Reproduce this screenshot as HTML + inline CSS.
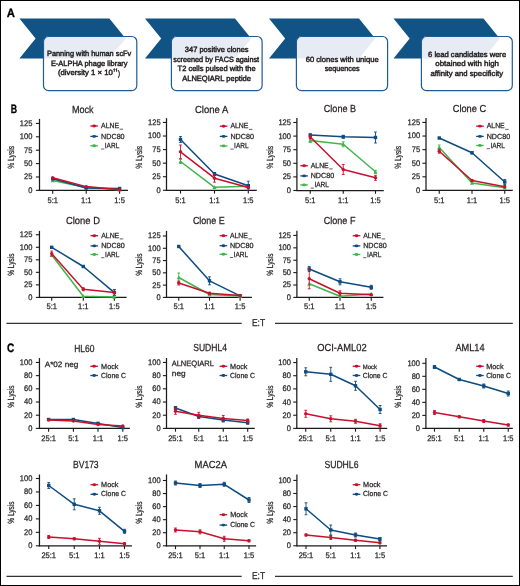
<!DOCTYPE html>
<html><head><meta charset="utf-8"><style>
html,body{margin:0;padding:0;background:#fff;}
body{width:520px;height:586px;overflow:hidden;position:relative;}
svg{position:absolute;left:0;top:0;font-family:"Liberation Sans", sans-serif;text-rendering:geometricPrecision;will-change:transform;}
.frame{position:absolute;left:0;top:0;width:518px;height:584px;border:1px solid #000;}
</style></head><body>
<svg width="520" height="586" viewBox="0 0 520 586">
<text x="6.70" y="16.60" font-size="12.0" font-weight="bold" fill="#000" stroke="#000" stroke-width="0.3" textLength="8.18" lengthAdjust="spacingAndGlyphs" >A</text>
<polygon points="19.40,18.5 109.40,18.5 125.60,38.5 109.40,58.5 19.40,58.5 35.60,38.5" fill="#115384"/>
<polygon points="145.00,18.5 235.00,18.5 251.20,38.5 235.00,58.5 145.00,58.5 161.20,38.5" fill="#115384"/>
<polygon points="269.00,18.5 359.00,18.5 375.20,38.5 359.00,58.5 269.00,58.5 285.20,38.5" fill="#115384"/>
<polygon points="393.50,18.5 483.50,18.5 499.70,38.5 483.50,58.5 393.50,58.5 409.70,38.5" fill="#115384"/>
<clipPath id="cb0"><rect x="43.50" y="36.5" width="93.30" height="54.1" rx="5" ry="5"/></clipPath>
<rect x="43.50" y="36.5" width="93.30" height="54.1" rx="5" ry="5" fill="#fff"/>
<polygon points="19.40,18.5 109.40,18.5 125.60,38.5 109.40,58.5 19.40,58.5 35.60,38.5" fill="#e7ebf4" clip-path="url(#cb0)"/>
<rect x="43.50" y="36.5" width="93.30" height="54.1" rx="5" ry="5" fill="none" stroke="#1f5b96" stroke-width="1.2"/>
<text x="47.00" y="56.20" font-size="7.6" font-weight="normal" fill="#231f20" stroke="#231f20" stroke-width="0.45" textLength="84.30" lengthAdjust="spacingAndGlyphs" >Panning with human scFv</text>
<text x="50.90" y="65.80" font-size="7.6" font-weight="normal" fill="#231f20" stroke="#231f20" stroke-width="0.45" textLength="76.70" lengthAdjust="spacingAndGlyphs" >E-ALPHA phage library</text>
<text x="57.90" y="75.20" font-size="7.6" font-weight="normal" fill="#231f20" stroke="#231f20" stroke-width="0.45" textLength="54.93" lengthAdjust="spacingAndGlyphs" >(diversity 1 × 10</text>
<clipPath id="cb1"><rect x="171.40" y="36.5" width="90.70" height="54.1" rx="5" ry="5"/></clipPath>
<rect x="171.40" y="36.5" width="90.70" height="54.1" rx="5" ry="5" fill="#fff"/>
<polygon points="145.00,18.5 235.00,18.5 251.20,38.5 235.00,58.5 145.00,58.5 161.20,38.5" fill="#e7ebf4" clip-path="url(#cb1)"/>
<rect x="171.40" y="36.5" width="90.70" height="54.1" rx="5" ry="5" fill="none" stroke="#1f5b96" stroke-width="1.2"/>
<text x="184.80" y="52.10" font-size="7.6" font-weight="normal" fill="#231f20" stroke="#231f20" stroke-width="0.45" textLength="63.80" lengthAdjust="spacingAndGlyphs" >347 positive clones</text>
<text x="173.30" y="61.70" font-size="7.6" font-weight="normal" fill="#231f20" stroke="#231f20" stroke-width="0.45" textLength="85.85" lengthAdjust="spacingAndGlyphs" >screened by FACS against</text>
<text x="177.60" y="71.30" font-size="7.6" font-weight="normal" fill="#231f20" stroke="#231f20" stroke-width="0.45" textLength="78.02" lengthAdjust="spacingAndGlyphs" >T2 cells pulsed with the</text>
<text x="182.20" y="80.90" font-size="7.6" font-weight="normal" fill="#231f20" stroke="#231f20" stroke-width="0.45" textLength="68.82" lengthAdjust="spacingAndGlyphs" >ALNEQIARL peptide</text>
<clipPath id="cb2"><rect x="296.40" y="36.5" width="91.20" height="54.1" rx="5" ry="5"/></clipPath>
<rect x="296.40" y="36.5" width="91.20" height="54.1" rx="5" ry="5" fill="#fff"/>
<polygon points="269.00,18.5 359.00,18.5 375.20,38.5 359.00,58.5 269.00,58.5 285.20,38.5" fill="#e7ebf4" clip-path="url(#cb2)"/>
<rect x="296.40" y="36.5" width="91.20" height="54.1" rx="5" ry="5" fill="none" stroke="#1f5b96" stroke-width="1.2"/>
<text x="305.70" y="61.70" font-size="7.6" font-weight="normal" fill="#231f20" stroke="#231f20" stroke-width="0.45" textLength="73.02" lengthAdjust="spacingAndGlyphs" >60 clones with unique</text>
<text x="324.70" y="71.20" font-size="7.6" font-weight="normal" fill="#231f20" stroke="#231f20" stroke-width="0.45" textLength="34.81" lengthAdjust="spacingAndGlyphs" >sequences</text>
<clipPath id="cb3"><rect x="421.40" y="36.5" width="90.90" height="54.1" rx="5" ry="5"/></clipPath>
<rect x="421.40" y="36.5" width="90.90" height="54.1" rx="5" ry="5" fill="#fff"/>
<polygon points="393.50,18.5 483.50,18.5 499.70,38.5 483.50,58.5 393.50,58.5 409.70,38.5" fill="#e7ebf4" clip-path="url(#cb3)"/>
<rect x="421.40" y="36.5" width="90.90" height="54.1" rx="5" ry="5" fill="none" stroke="#1f5b96" stroke-width="1.2"/>
<text x="428.10" y="56.50" font-size="7.6" font-weight="normal" fill="#231f20" stroke="#231f20" stroke-width="0.45" textLength="78.02" lengthAdjust="spacingAndGlyphs" >6 lead candidates were</text>
<text x="435.30" y="66.00" font-size="7.6" font-weight="normal" fill="#231f20" stroke="#231f20" stroke-width="0.45" textLength="63.63" lengthAdjust="spacingAndGlyphs" >obtained with high</text>
<text x="430.50" y="75.60" font-size="7.6" font-weight="normal" fill="#231f20" stroke="#231f20" stroke-width="0.45" textLength="72.59" lengthAdjust="spacingAndGlyphs" >affinity and specificity</text>
<path d="M113.30,69.6 L114.30,68.6 L114.30,71.8" fill="none" stroke="#231f20" stroke-width="1.0"/>
<path d="M115.60,69.6 L116.60,68.6 L116.60,71.8" fill="none" stroke="#231f20" stroke-width="1.0"/>
<text x="118.10" y="75.60" font-size="7.9" font-weight="normal" fill="#231f20" stroke="#231f20" stroke-width="0.45" textLength="2.01" lengthAdjust="spacingAndGlyphs" >)</text>
<text x="10.80" y="112.80" font-size="12.2" font-weight="bold" fill="#000" stroke="#000" stroke-width="0.3" textLength="6.36" lengthAdjust="spacingAndGlyphs" >B</text>
<text x="6.90" y="352.10" font-size="12.2" font-weight="bold" fill="#000" stroke="#000" stroke-width="0.3" textLength="7.33" lengthAdjust="spacingAndGlyphs" >C</text>
<line x1="39.50" y1="118.90" x2="39.50" y2="190.95" stroke="#1a1a1a" stroke-width="1.25" />
<line x1="38.90" y1="190.35" x2="128.00" y2="190.35" stroke="#1a1a1a" stroke-width="1.25" />
<line x1="35.90" y1="190.35" x2="39.50" y2="190.35" stroke="#1a1a1a" stroke-width="1.1" />
<text x="28.21" y="192.80" font-size="8.1" font-weight="normal" fill="#231f20" stroke="#231f20" stroke-width="0.25" textLength="4.19" lengthAdjust="spacingAndGlyphs" >0</text>
<line x1="35.90" y1="176.97" x2="39.50" y2="176.97" stroke="#1a1a1a" stroke-width="1.1" />
<text x="24.03" y="179.42" font-size="8.1" font-weight="normal" fill="#231f20" stroke="#231f20" stroke-width="0.25" textLength="8.37" lengthAdjust="spacingAndGlyphs" >25</text>
<line x1="35.90" y1="163.59" x2="39.50" y2="163.59" stroke="#1a1a1a" stroke-width="1.1" />
<text x="24.03" y="166.04" font-size="8.1" font-weight="normal" fill="#231f20" stroke="#231f20" stroke-width="0.25" textLength="8.37" lengthAdjust="spacingAndGlyphs" >50</text>
<line x1="35.90" y1="150.20" x2="39.50" y2="150.20" stroke="#1a1a1a" stroke-width="1.1" />
<text x="24.03" y="152.65" font-size="8.1" font-weight="normal" fill="#231f20" stroke="#231f20" stroke-width="0.25" textLength="8.37" lengthAdjust="spacingAndGlyphs" >75</text>
<line x1="35.90" y1="136.82" x2="39.50" y2="136.82" stroke="#1a1a1a" stroke-width="1.1" />
<text x="19.84" y="139.27" font-size="8.1" font-weight="normal" fill="#231f20" stroke="#231f20" stroke-width="0.25" textLength="12.56" lengthAdjust="spacingAndGlyphs" >100</text>
<line x1="35.90" y1="123.44" x2="39.50" y2="123.44" stroke="#1a1a1a" stroke-width="1.1" />
<text x="19.84" y="125.89" font-size="8.1" font-weight="normal" fill="#231f20" stroke="#231f20" stroke-width="0.25" textLength="12.56" lengthAdjust="spacingAndGlyphs" >125</text>
<line x1="52.70" y1="190.35" x2="52.70" y2="193.65" stroke="#1a1a1a" stroke-width="1.1" />
<text x="47.47" y="202.70" font-size="8.1" font-weight="normal" fill="#231f20" stroke="#231f20" stroke-width="0.25" textLength="10.46" lengthAdjust="spacingAndGlyphs" >5:1</text>
<line x1="86.20" y1="190.35" x2="86.20" y2="193.65" stroke="#1a1a1a" stroke-width="1.1" />
<text x="80.97" y="202.70" font-size="8.1" font-weight="normal" fill="#231f20" stroke="#231f20" stroke-width="0.25" textLength="10.46" lengthAdjust="spacingAndGlyphs" >1:1</text>
<line x1="119.60" y1="190.35" x2="119.60" y2="193.65" stroke="#1a1a1a" stroke-width="1.1" />
<text x="114.37" y="202.70" font-size="8.1" font-weight="normal" fill="#231f20" stroke="#231f20" stroke-width="0.25" textLength="10.46" lengthAdjust="spacingAndGlyphs" >1:5</text>
<text x="145.50" y="0.00" font-size="9.0" font-weight="normal" fill="#231f20" stroke="#231f20" stroke-width="0.25" textLength="22.83" lengthAdjust="spacingAndGlyphs" transform="translate(14.00,314.20) rotate(-90)">% Lysis</text>
<text x="72.00" y="112.60" font-size="10.2" font-weight="normal" fill="#231f20" stroke="#231f20" stroke-width="0.25" textLength="21.60" lengthAdjust="spacingAndGlyphs" >Mock</text>
<polyline points="52.70,180.50 86.20,187.60 119.60,189.80" fill="none" stroke="#3fb54a" stroke-width="1.5" stroke-linejoin="round"/>
<polygon points="52.70,178.46 54.74,182.20 50.66,182.20" fill="#3fb54a"/>
<polygon points="86.20,185.56 88.24,189.30 84.16,189.30" fill="#3fb54a"/>
<polygon points="119.60,187.76 121.64,191.50 117.56,191.50" fill="#3fb54a"/>
<polyline points="52.70,178.80 86.20,188.00 119.60,188.50" fill="none" stroke="#0d4b80" stroke-width="1.5" stroke-linejoin="round"/>
<rect x="51.00" y="177.10" width="3.4" height="3.4" fill="#0d4b80"/>
<rect x="84.50" y="186.30" width="3.4" height="3.4" fill="#0d4b80"/>
<rect x="117.90" y="186.80" width="3.4" height="3.4" fill="#0d4b80"/>
<polyline points="52.70,177.70 86.20,186.60 119.60,189.70" fill="none" stroke="#c8102e" stroke-width="1.5" stroke-linejoin="round"/>
<circle cx="52.70" cy="177.70" r="1.7" fill="#c8102e"/>
<circle cx="86.20" cy="186.60" r="1.7" fill="#c8102e"/>
<circle cx="119.60" cy="189.70" r="1.7" fill="#c8102e"/>
<line x1="90.30" y1="126.00" x2="97.90" y2="126.00" stroke="#c8102e" stroke-width="1.3" />
<ellipse cx="94.10" cy="126.00" rx="1.9" ry="1.45" fill="#c8102e"/>
<text x="101.10" y="128.20" font-size="7.4" font-weight="normal" fill="#231f20" stroke="#231f20" stroke-width="0.25" textLength="18.03" lengthAdjust="spacingAndGlyphs" >ALNE</text>
<line x1="119.60" y1="129.20" x2="123.10" y2="129.20" stroke="#231f20" stroke-width="0.7" />
<line x1="90.30" y1="136.40" x2="97.90" y2="136.40" stroke="#0d4b80" stroke-width="1.3" />
<ellipse cx="94.10" cy="136.40" rx="1.9" ry="1.45" fill="#0d4b80"/>
<text x="101.10" y="138.60" font-size="7.4" font-weight="normal" fill="#231f20" stroke="#231f20" stroke-width="0.25" textLength="23.51" lengthAdjust="spacingAndGlyphs" >NDC80</text>
<line x1="90.30" y1="145.80" x2="97.90" y2="145.80" stroke="#3fb54a" stroke-width="1.3" />
<ellipse cx="94.10" cy="145.80" rx="1.9" ry="1.45" fill="#3fb54a"/>
<line x1="101.10" y1="149.00" x2="104.30" y2="149.00" stroke="#231f20" stroke-width="0.7" />
<text x="104.80" y="148.00" font-size="7.4" font-weight="normal" fill="#231f20" stroke="#231f20" stroke-width="0.25" textLength="14.50" lengthAdjust="spacingAndGlyphs" >IARL</text>
<line x1="166.50" y1="118.15" x2="166.50" y2="190.90" stroke="#1a1a1a" stroke-width="1.25" />
<line x1="165.90" y1="190.30" x2="256.80" y2="190.30" stroke="#1a1a1a" stroke-width="1.25" />
<line x1="162.90" y1="190.30" x2="166.50" y2="190.30" stroke="#1a1a1a" stroke-width="1.1" />
<text x="156.41" y="192.75" font-size="8.1" font-weight="normal" fill="#231f20" stroke="#231f20" stroke-width="0.25" textLength="4.19" lengthAdjust="spacingAndGlyphs" >0</text>
<line x1="162.90" y1="176.73" x2="166.50" y2="176.73" stroke="#1a1a1a" stroke-width="1.1" />
<text x="152.23" y="179.18" font-size="8.1" font-weight="normal" fill="#231f20" stroke="#231f20" stroke-width="0.25" textLength="8.37" lengthAdjust="spacingAndGlyphs" >25</text>
<line x1="162.90" y1="163.16" x2="166.50" y2="163.16" stroke="#1a1a1a" stroke-width="1.1" />
<text x="152.23" y="165.61" font-size="8.1" font-weight="normal" fill="#231f20" stroke="#231f20" stroke-width="0.25" textLength="8.37" lengthAdjust="spacingAndGlyphs" >50</text>
<line x1="162.90" y1="149.58" x2="166.50" y2="149.58" stroke="#1a1a1a" stroke-width="1.1" />
<text x="152.23" y="152.03" font-size="8.1" font-weight="normal" fill="#231f20" stroke="#231f20" stroke-width="0.25" textLength="8.37" lengthAdjust="spacingAndGlyphs" >75</text>
<line x1="162.90" y1="136.01" x2="166.50" y2="136.01" stroke="#1a1a1a" stroke-width="1.1" />
<text x="148.04" y="138.46" font-size="8.1" font-weight="normal" fill="#231f20" stroke="#231f20" stroke-width="0.25" textLength="12.56" lengthAdjust="spacingAndGlyphs" >100</text>
<line x1="162.90" y1="122.44" x2="166.50" y2="122.44" stroke="#1a1a1a" stroke-width="1.1" />
<text x="148.04" y="124.89" font-size="8.1" font-weight="normal" fill="#231f20" stroke="#231f20" stroke-width="0.25" textLength="12.56" lengthAdjust="spacingAndGlyphs" >125</text>
<line x1="180.50" y1="190.30" x2="180.50" y2="193.60" stroke="#1a1a1a" stroke-width="1.1" />
<text x="175.27" y="202.70" font-size="8.1" font-weight="normal" fill="#231f20" stroke="#231f20" stroke-width="0.25" textLength="10.46" lengthAdjust="spacingAndGlyphs" >5:1</text>
<line x1="214.50" y1="190.30" x2="214.50" y2="193.60" stroke="#1a1a1a" stroke-width="1.1" />
<text x="209.27" y="202.70" font-size="8.1" font-weight="normal" fill="#231f20" stroke="#231f20" stroke-width="0.25" textLength="10.46" lengthAdjust="spacingAndGlyphs" >1:1</text>
<line x1="248.30" y1="190.30" x2="248.30" y2="193.60" stroke="#1a1a1a" stroke-width="1.1" />
<text x="243.07" y="202.70" font-size="8.1" font-weight="normal" fill="#231f20" stroke="#231f20" stroke-width="0.25" textLength="10.46" lengthAdjust="spacingAndGlyphs" >1:5</text>
<text x="145.50" y="0.00" font-size="9.0" font-weight="normal" fill="#231f20" stroke="#231f20" stroke-width="0.25" textLength="22.83" lengthAdjust="spacingAndGlyphs" transform="translate(142.20,314.20) rotate(-90)">% Lysis</text>
<text x="195.00" y="112.60" font-size="10.2" font-weight="normal" fill="#231f20" stroke="#231f20" stroke-width="0.25" textLength="33.21" lengthAdjust="spacingAndGlyphs" >Clone A</text>
<line x1="180.50" y1="159.50" x2="180.50" y2="163.50" stroke="#3fb54a" stroke-width="0.9" />
<line x1="179.10" y1="159.50" x2="181.90" y2="159.50" stroke="#3fb54a" stroke-width="0.9" />
<line x1="179.10" y1="163.50" x2="181.90" y2="163.50" stroke="#3fb54a" stroke-width="0.9" />
<polyline points="180.50,161.50 214.50,187.30 248.30,186.30" fill="none" stroke="#3fb54a" stroke-width="1.5" stroke-linejoin="round"/>
<polygon points="180.50,159.46 182.54,163.20 178.46,163.20" fill="#3fb54a"/>
<polygon points="214.50,185.26 216.54,189.00 212.46,189.00" fill="#3fb54a"/>
<polygon points="248.30,184.26 250.34,188.00 246.26,188.00" fill="#3fb54a"/>
<line x1="180.50" y1="136.50" x2="180.50" y2="142.50" stroke="#0d4b80" stroke-width="0.9" />
<line x1="179.10" y1="136.50" x2="181.90" y2="136.50" stroke="#0d4b80" stroke-width="0.9" />
<line x1="179.10" y1="142.50" x2="181.90" y2="142.50" stroke="#0d4b80" stroke-width="0.9" />
<line x1="214.50" y1="172.50" x2="214.50" y2="175.50" stroke="#0d4b80" stroke-width="0.9" />
<line x1="213.10" y1="172.50" x2="215.90" y2="172.50" stroke="#0d4b80" stroke-width="0.9" />
<line x1="213.10" y1="175.50" x2="215.90" y2="175.50" stroke="#0d4b80" stroke-width="0.9" />
<line x1="248.30" y1="181.20" x2="248.30" y2="190.20" stroke="#0d4b80" stroke-width="0.9" />
<line x1="246.90" y1="181.20" x2="249.70" y2="181.20" stroke="#0d4b80" stroke-width="0.9" />
<line x1="246.90" y1="190.20" x2="249.70" y2="190.20" stroke="#0d4b80" stroke-width="0.9" />
<polyline points="180.50,139.50 214.50,174.00 248.30,185.70" fill="none" stroke="#0d4b80" stroke-width="1.5" stroke-linejoin="round"/>
<rect x="178.80" y="137.80" width="3.4" height="3.4" fill="#0d4b80"/>
<rect x="212.80" y="172.30" width="3.4" height="3.4" fill="#0d4b80"/>
<rect x="246.60" y="184.00" width="3.4" height="3.4" fill="#0d4b80"/>
<line x1="180.50" y1="145.00" x2="180.50" y2="158.60" stroke="#c8102e" stroke-width="0.9" />
<line x1="179.10" y1="145.00" x2="181.90" y2="145.00" stroke="#c8102e" stroke-width="0.9" />
<line x1="179.10" y1="158.60" x2="181.90" y2="158.60" stroke="#c8102e" stroke-width="0.9" />
<line x1="214.50" y1="174.20" x2="214.50" y2="182.20" stroke="#c8102e" stroke-width="0.9" />
<line x1="213.10" y1="174.20" x2="215.90" y2="174.20" stroke="#c8102e" stroke-width="0.9" />
<line x1="213.10" y1="182.20" x2="215.90" y2="182.20" stroke="#c8102e" stroke-width="0.9" />
<line x1="248.30" y1="186.50" x2="248.30" y2="188.50" stroke="#c8102e" stroke-width="0.9" />
<line x1="246.90" y1="186.50" x2="249.70" y2="186.50" stroke="#c8102e" stroke-width="0.9" />
<line x1="246.90" y1="188.50" x2="249.70" y2="188.50" stroke="#c8102e" stroke-width="0.9" />
<polyline points="180.50,151.80 214.50,178.20 248.30,187.50" fill="none" stroke="#c8102e" stroke-width="1.5" stroke-linejoin="round"/>
<circle cx="180.50" cy="151.80" r="1.7" fill="#c8102e"/>
<circle cx="214.50" cy="178.20" r="1.7" fill="#c8102e"/>
<circle cx="248.30" cy="187.50" r="1.7" fill="#c8102e"/>
<line x1="219.80" y1="126.20" x2="227.40" y2="126.20" stroke="#c8102e" stroke-width="1.3" />
<ellipse cx="223.60" cy="126.20" rx="1.9" ry="1.45" fill="#c8102e"/>
<text x="230.40" y="128.40" font-size="7.4" font-weight="normal" fill="#231f20" stroke="#231f20" stroke-width="0.25" textLength="18.03" lengthAdjust="spacingAndGlyphs" >ALNE</text>
<line x1="248.90" y1="129.40" x2="252.40" y2="129.40" stroke="#231f20" stroke-width="0.7" />
<line x1="219.80" y1="136.40" x2="227.40" y2="136.40" stroke="#0d4b80" stroke-width="1.3" />
<ellipse cx="223.60" cy="136.40" rx="1.9" ry="1.45" fill="#0d4b80"/>
<text x="230.40" y="138.60" font-size="7.4" font-weight="normal" fill="#231f20" stroke="#231f20" stroke-width="0.25" textLength="23.51" lengthAdjust="spacingAndGlyphs" >NDC80</text>
<line x1="219.80" y1="145.90" x2="227.40" y2="145.90" stroke="#3fb54a" stroke-width="1.3" />
<ellipse cx="223.60" cy="145.90" rx="1.9" ry="1.45" fill="#3fb54a"/>
<line x1="230.40" y1="149.10" x2="233.60" y2="149.10" stroke="#231f20" stroke-width="0.7" />
<text x="234.10" y="148.10" font-size="7.4" font-weight="normal" fill="#231f20" stroke="#231f20" stroke-width="0.25" textLength="14.50" lengthAdjust="spacingAndGlyphs" >IARL</text>
<line x1="296.90" y1="118.05" x2="296.90" y2="191.10" stroke="#1a1a1a" stroke-width="1.25" />
<line x1="296.30" y1="190.50" x2="383.75" y2="190.50" stroke="#1a1a1a" stroke-width="1.25" />
<line x1="293.30" y1="190.50" x2="296.90" y2="190.50" stroke="#1a1a1a" stroke-width="1.1" />
<text x="286.81" y="192.95" font-size="8.1" font-weight="normal" fill="#231f20" stroke="#231f20" stroke-width="0.25" textLength="4.19" lengthAdjust="spacingAndGlyphs" >0</text>
<line x1="293.30" y1="176.90" x2="296.90" y2="176.90" stroke="#1a1a1a" stroke-width="1.1" />
<text x="282.63" y="179.35" font-size="8.1" font-weight="normal" fill="#231f20" stroke="#231f20" stroke-width="0.25" textLength="8.37" lengthAdjust="spacingAndGlyphs" >25</text>
<line x1="293.30" y1="163.30" x2="296.90" y2="163.30" stroke="#1a1a1a" stroke-width="1.1" />
<text x="282.63" y="165.75" font-size="8.1" font-weight="normal" fill="#231f20" stroke="#231f20" stroke-width="0.25" textLength="8.37" lengthAdjust="spacingAndGlyphs" >50</text>
<line x1="293.30" y1="149.70" x2="296.90" y2="149.70" stroke="#1a1a1a" stroke-width="1.1" />
<text x="282.63" y="152.15" font-size="8.1" font-weight="normal" fill="#231f20" stroke="#231f20" stroke-width="0.25" textLength="8.37" lengthAdjust="spacingAndGlyphs" >75</text>
<line x1="293.30" y1="136.10" x2="296.90" y2="136.10" stroke="#1a1a1a" stroke-width="1.1" />
<text x="278.44" y="138.55" font-size="8.1" font-weight="normal" fill="#231f20" stroke="#231f20" stroke-width="0.25" textLength="12.56" lengthAdjust="spacingAndGlyphs" >100</text>
<line x1="293.30" y1="122.50" x2="296.90" y2="122.50" stroke="#1a1a1a" stroke-width="1.1" />
<text x="278.44" y="124.95" font-size="8.1" font-weight="normal" fill="#231f20" stroke="#231f20" stroke-width="0.25" textLength="12.56" lengthAdjust="spacingAndGlyphs" >125</text>
<line x1="310.25" y1="190.50" x2="310.25" y2="193.80" stroke="#1a1a1a" stroke-width="1.1" />
<text x="305.02" y="202.70" font-size="8.1" font-weight="normal" fill="#231f20" stroke="#231f20" stroke-width="0.25" textLength="10.46" lengthAdjust="spacingAndGlyphs" >5:1</text>
<line x1="343.25" y1="190.50" x2="343.25" y2="193.80" stroke="#1a1a1a" stroke-width="1.1" />
<text x="338.02" y="202.70" font-size="8.1" font-weight="normal" fill="#231f20" stroke="#231f20" stroke-width="0.25" textLength="10.46" lengthAdjust="spacingAndGlyphs" >1:1</text>
<line x1="375.50" y1="190.50" x2="375.50" y2="193.80" stroke="#1a1a1a" stroke-width="1.1" />
<text x="370.27" y="202.70" font-size="8.1" font-weight="normal" fill="#231f20" stroke="#231f20" stroke-width="0.25" textLength="10.46" lengthAdjust="spacingAndGlyphs" >1:5</text>
<text x="145.50" y="0.00" font-size="9.0" font-weight="normal" fill="#231f20" stroke="#231f20" stroke-width="0.25" textLength="22.83" lengthAdjust="spacingAndGlyphs" transform="translate(272.85,314.20) rotate(-90)">% Lysis</text>
<text x="323.80" y="112.40" font-size="10.2" font-weight="normal" fill="#231f20" stroke="#231f20" stroke-width="0.25" textLength="32.22" lengthAdjust="spacingAndGlyphs" >Clone B</text>
<line x1="310.25" y1="134.00" x2="310.25" y2="136.00" stroke="#0d4b80" stroke-width="0.9" />
<line x1="308.85" y1="134.00" x2="311.65" y2="134.00" stroke="#0d4b80" stroke-width="0.9" />
<line x1="308.85" y1="136.00" x2="311.65" y2="136.00" stroke="#0d4b80" stroke-width="0.9" />
<line x1="343.25" y1="135.30" x2="343.25" y2="138.30" stroke="#0d4b80" stroke-width="0.9" />
<line x1="341.85" y1="135.30" x2="344.65" y2="135.30" stroke="#0d4b80" stroke-width="0.9" />
<line x1="341.85" y1="138.30" x2="344.65" y2="138.30" stroke="#0d4b80" stroke-width="0.9" />
<line x1="375.50" y1="132.00" x2="375.50" y2="143.00" stroke="#0d4b80" stroke-width="0.9" />
<line x1="374.10" y1="132.00" x2="376.90" y2="132.00" stroke="#0d4b80" stroke-width="0.9" />
<line x1="374.10" y1="143.00" x2="376.90" y2="143.00" stroke="#0d4b80" stroke-width="0.9" />
<polyline points="310.25,135.00 343.25,136.80 375.50,137.50" fill="none" stroke="#0d4b80" stroke-width="1.5" stroke-linejoin="round"/>
<rect x="308.55" y="133.30" width="3.4" height="3.4" fill="#0d4b80"/>
<rect x="341.55" y="135.10" width="3.4" height="3.4" fill="#0d4b80"/>
<rect x="373.80" y="135.80" width="3.4" height="3.4" fill="#0d4b80"/>
<line x1="310.25" y1="138.50" x2="310.25" y2="142.50" stroke="#3fb54a" stroke-width="0.9" />
<line x1="308.85" y1="138.50" x2="311.65" y2="138.50" stroke="#3fb54a" stroke-width="0.9" />
<line x1="308.85" y1="142.50" x2="311.65" y2="142.50" stroke="#3fb54a" stroke-width="0.9" />
<line x1="343.25" y1="141.80" x2="343.25" y2="146.80" stroke="#3fb54a" stroke-width="0.9" />
<line x1="341.85" y1="141.80" x2="344.65" y2="141.80" stroke="#3fb54a" stroke-width="0.9" />
<line x1="341.85" y1="146.80" x2="344.65" y2="146.80" stroke="#3fb54a" stroke-width="0.9" />
<line x1="375.50" y1="170.30" x2="375.50" y2="173.30" stroke="#3fb54a" stroke-width="0.9" />
<line x1="374.10" y1="170.30" x2="376.90" y2="170.30" stroke="#3fb54a" stroke-width="0.9" />
<line x1="374.10" y1="173.30" x2="376.90" y2="173.30" stroke="#3fb54a" stroke-width="0.9" />
<polyline points="310.25,140.50 343.25,144.30 375.50,171.80" fill="none" stroke="#3fb54a" stroke-width="1.5" stroke-linejoin="round"/>
<polygon points="310.25,138.46 312.29,142.20 308.21,142.20" fill="#3fb54a"/>
<polygon points="343.25,142.26 345.29,146.00 341.21,146.00" fill="#3fb54a"/>
<polygon points="375.50,169.76 377.54,173.50 373.46,173.50" fill="#3fb54a"/>
<line x1="310.25" y1="135.00" x2="310.25" y2="139.00" stroke="#c8102e" stroke-width="0.9" />
<line x1="308.85" y1="135.00" x2="311.65" y2="135.00" stroke="#c8102e" stroke-width="0.9" />
<line x1="308.85" y1="139.00" x2="311.65" y2="139.00" stroke="#c8102e" stroke-width="0.9" />
<line x1="343.25" y1="164.50" x2="343.25" y2="174.50" stroke="#c8102e" stroke-width="0.9" />
<line x1="341.85" y1="164.50" x2="344.65" y2="164.50" stroke="#c8102e" stroke-width="0.9" />
<line x1="341.85" y1="174.50" x2="344.65" y2="174.50" stroke="#c8102e" stroke-width="0.9" />
<line x1="375.50" y1="175.30" x2="375.50" y2="180.30" stroke="#c8102e" stroke-width="0.9" />
<line x1="374.10" y1="175.30" x2="376.90" y2="175.30" stroke="#c8102e" stroke-width="0.9" />
<line x1="374.10" y1="180.30" x2="376.90" y2="180.30" stroke="#c8102e" stroke-width="0.9" />
<polyline points="310.25,137.00 343.25,169.50 375.50,177.80" fill="none" stroke="#c8102e" stroke-width="1.5" stroke-linejoin="round"/>
<circle cx="310.25" cy="137.00" r="1.7" fill="#c8102e"/>
<circle cx="343.25" cy="169.50" r="1.7" fill="#c8102e"/>
<circle cx="375.50" cy="177.80" r="1.7" fill="#c8102e"/>
<line x1="300.30" y1="165.70" x2="307.90" y2="165.70" stroke="#c8102e" stroke-width="1.3" />
<ellipse cx="304.10" cy="165.70" rx="1.9" ry="1.45" fill="#c8102e"/>
<text x="310.70" y="167.90" font-size="7.4" font-weight="normal" fill="#231f20" stroke="#231f20" stroke-width="0.25" textLength="18.03" lengthAdjust="spacingAndGlyphs" >ALNE</text>
<line x1="329.20" y1="168.90" x2="332.70" y2="168.90" stroke="#231f20" stroke-width="0.7" />
<line x1="300.30" y1="175.90" x2="307.90" y2="175.90" stroke="#0d4b80" stroke-width="1.3" />
<ellipse cx="304.10" cy="175.90" rx="1.9" ry="1.45" fill="#0d4b80"/>
<text x="310.70" y="178.10" font-size="7.4" font-weight="normal" fill="#231f20" stroke="#231f20" stroke-width="0.25" textLength="23.51" lengthAdjust="spacingAndGlyphs" >NDC80</text>
<line x1="300.30" y1="184.90" x2="307.90" y2="184.90" stroke="#3fb54a" stroke-width="1.3" />
<ellipse cx="304.10" cy="184.90" rx="1.9" ry="1.45" fill="#3fb54a"/>
<line x1="310.70" y1="188.10" x2="313.90" y2="188.10" stroke="#231f20" stroke-width="0.7" />
<text x="314.40" y="187.10" font-size="7.4" font-weight="normal" fill="#231f20" stroke="#231f20" stroke-width="0.25" textLength="14.50" lengthAdjust="spacingAndGlyphs" >IARL</text>
<line x1="426.00" y1="118.05" x2="426.00" y2="191.00" stroke="#1a1a1a" stroke-width="1.25" />
<line x1="425.40" y1="190.40" x2="512.80" y2="190.40" stroke="#1a1a1a" stroke-width="1.25" />
<line x1="422.40" y1="190.40" x2="426.00" y2="190.40" stroke="#1a1a1a" stroke-width="1.1" />
<text x="415.91" y="192.85" font-size="8.1" font-weight="normal" fill="#231f20" stroke="#231f20" stroke-width="0.25" textLength="4.19" lengthAdjust="spacingAndGlyphs" >0</text>
<line x1="422.40" y1="176.81" x2="426.00" y2="176.81" stroke="#1a1a1a" stroke-width="1.1" />
<text x="411.73" y="179.26" font-size="8.1" font-weight="normal" fill="#231f20" stroke="#231f20" stroke-width="0.25" textLength="8.37" lengthAdjust="spacingAndGlyphs" >25</text>
<line x1="422.40" y1="163.22" x2="426.00" y2="163.22" stroke="#1a1a1a" stroke-width="1.1" />
<text x="411.73" y="165.67" font-size="8.1" font-weight="normal" fill="#231f20" stroke="#231f20" stroke-width="0.25" textLength="8.37" lengthAdjust="spacingAndGlyphs" >50</text>
<line x1="422.40" y1="149.63" x2="426.00" y2="149.63" stroke="#1a1a1a" stroke-width="1.1" />
<text x="411.73" y="152.08" font-size="8.1" font-weight="normal" fill="#231f20" stroke="#231f20" stroke-width="0.25" textLength="8.37" lengthAdjust="spacingAndGlyphs" >75</text>
<line x1="422.40" y1="136.04" x2="426.00" y2="136.04" stroke="#1a1a1a" stroke-width="1.1" />
<text x="407.54" y="138.49" font-size="8.1" font-weight="normal" fill="#231f20" stroke="#231f20" stroke-width="0.25" textLength="12.56" lengthAdjust="spacingAndGlyphs" >100</text>
<line x1="422.40" y1="122.45" x2="426.00" y2="122.45" stroke="#1a1a1a" stroke-width="1.1" />
<text x="407.54" y="124.90" font-size="8.1" font-weight="normal" fill="#231f20" stroke="#231f20" stroke-width="0.25" textLength="12.56" lengthAdjust="spacingAndGlyphs" >125</text>
<line x1="439.25" y1="190.40" x2="439.25" y2="193.70" stroke="#1a1a1a" stroke-width="1.1" />
<text x="434.02" y="202.70" font-size="8.1" font-weight="normal" fill="#231f20" stroke="#231f20" stroke-width="0.25" textLength="10.46" lengthAdjust="spacingAndGlyphs" >5:1</text>
<line x1="472.00" y1="190.40" x2="472.00" y2="193.70" stroke="#1a1a1a" stroke-width="1.1" />
<text x="466.77" y="202.70" font-size="8.1" font-weight="normal" fill="#231f20" stroke="#231f20" stroke-width="0.25" textLength="10.46" lengthAdjust="spacingAndGlyphs" >1:1</text>
<line x1="504.75" y1="190.40" x2="504.75" y2="193.70" stroke="#1a1a1a" stroke-width="1.1" />
<text x="499.52" y="202.70" font-size="8.1" font-weight="normal" fill="#231f20" stroke="#231f20" stroke-width="0.25" textLength="10.46" lengthAdjust="spacingAndGlyphs" >1:5</text>
<text x="145.50" y="0.00" font-size="9.0" font-weight="normal" fill="#231f20" stroke="#231f20" stroke-width="0.25" textLength="22.83" lengthAdjust="spacingAndGlyphs" transform="translate(401.05,314.20) rotate(-90)">% Lysis</text>
<text x="452.70" y="112.40" font-size="10.2" font-weight="normal" fill="#231f20" stroke="#231f20" stroke-width="0.25" textLength="33.53" lengthAdjust="spacingAndGlyphs" >Clone C</text>
<line x1="472.00" y1="151.80" x2="472.00" y2="153.80" stroke="#0d4b80" stroke-width="0.9" />
<line x1="470.60" y1="151.80" x2="473.40" y2="151.80" stroke="#0d4b80" stroke-width="0.9" />
<line x1="470.60" y1="153.80" x2="473.40" y2="153.80" stroke="#0d4b80" stroke-width="0.9" />
<line x1="504.75" y1="179.50" x2="504.75" y2="184.50" stroke="#0d4b80" stroke-width="0.9" />
<line x1="503.35" y1="179.50" x2="506.15" y2="179.50" stroke="#0d4b80" stroke-width="0.9" />
<line x1="503.35" y1="184.50" x2="506.15" y2="184.50" stroke="#0d4b80" stroke-width="0.9" />
<polyline points="439.25,138.00 472.00,152.80 504.75,182.00" fill="none" stroke="#0d4b80" stroke-width="1.5" stroke-linejoin="round"/>
<rect x="437.55" y="136.30" width="3.4" height="3.4" fill="#0d4b80"/>
<rect x="470.30" y="151.10" width="3.4" height="3.4" fill="#0d4b80"/>
<rect x="503.05" y="180.30" width="3.4" height="3.4" fill="#0d4b80"/>
<line x1="439.25" y1="145.00" x2="439.25" y2="150.00" stroke="#3fb54a" stroke-width="0.9" />
<line x1="437.85" y1="145.00" x2="440.65" y2="145.00" stroke="#3fb54a" stroke-width="0.9" />
<line x1="437.85" y1="150.00" x2="440.65" y2="150.00" stroke="#3fb54a" stroke-width="0.9" />
<polyline points="439.25,147.50 472.00,183.00 504.75,187.70" fill="none" stroke="#3fb54a" stroke-width="1.5" stroke-linejoin="round"/>
<polygon points="439.25,145.46 441.29,149.20 437.21,149.20" fill="#3fb54a"/>
<polygon points="472.00,180.96 474.04,184.70 469.96,184.70" fill="#3fb54a"/>
<polygon points="504.75,185.66 506.79,189.40 502.71,189.40" fill="#3fb54a"/>
<line x1="439.25" y1="149.20" x2="439.25" y2="153.20" stroke="#c8102e" stroke-width="0.9" />
<line x1="437.85" y1="149.20" x2="440.65" y2="149.20" stroke="#c8102e" stroke-width="0.9" />
<line x1="437.85" y1="153.20" x2="440.65" y2="153.20" stroke="#c8102e" stroke-width="0.9" />
<line x1="472.00" y1="179.50" x2="472.00" y2="181.50" stroke="#c8102e" stroke-width="0.9" />
<line x1="470.60" y1="179.50" x2="473.40" y2="179.50" stroke="#c8102e" stroke-width="0.9" />
<line x1="470.60" y1="181.50" x2="473.40" y2="181.50" stroke="#c8102e" stroke-width="0.9" />
<line x1="504.75" y1="185.70" x2="504.75" y2="187.70" stroke="#c8102e" stroke-width="0.9" />
<line x1="503.35" y1="185.70" x2="506.15" y2="185.70" stroke="#c8102e" stroke-width="0.9" />
<line x1="503.35" y1="187.70" x2="506.15" y2="187.70" stroke="#c8102e" stroke-width="0.9" />
<polyline points="439.25,151.20 472.00,180.50 504.75,186.70" fill="none" stroke="#c8102e" stroke-width="1.5" stroke-linejoin="round"/>
<circle cx="439.25" cy="151.20" r="1.7" fill="#c8102e"/>
<circle cx="472.00" cy="180.50" r="1.7" fill="#c8102e"/>
<circle cx="504.75" cy="186.70" r="1.7" fill="#c8102e"/>
<line x1="476.15" y1="126.15" x2="483.75" y2="126.15" stroke="#c8102e" stroke-width="1.3" />
<ellipse cx="479.95" cy="126.15" rx="1.9" ry="1.45" fill="#c8102e"/>
<text x="486.70" y="128.35" font-size="7.4" font-weight="normal" fill="#231f20" stroke="#231f20" stroke-width="0.25" textLength="18.03" lengthAdjust="spacingAndGlyphs" >ALNE</text>
<line x1="505.20" y1="129.35" x2="508.70" y2="129.35" stroke="#231f20" stroke-width="0.7" />
<line x1="476.15" y1="136.40" x2="483.75" y2="136.40" stroke="#0d4b80" stroke-width="1.3" />
<ellipse cx="479.95" cy="136.40" rx="1.9" ry="1.45" fill="#0d4b80"/>
<text x="486.70" y="138.60" font-size="7.4" font-weight="normal" fill="#231f20" stroke="#231f20" stroke-width="0.25" textLength="23.51" lengthAdjust="spacingAndGlyphs" >NDC80</text>
<line x1="476.15" y1="145.50" x2="483.75" y2="145.50" stroke="#3fb54a" stroke-width="1.3" />
<ellipse cx="479.95" cy="145.50" rx="1.9" ry="1.45" fill="#3fb54a"/>
<line x1="486.70" y1="148.70" x2="489.90" y2="148.70" stroke="#231f20" stroke-width="0.7" />
<text x="490.40" y="147.70" font-size="7.4" font-weight="normal" fill="#231f20" stroke="#231f20" stroke-width="0.25" textLength="14.50" lengthAdjust="spacingAndGlyphs" >IARL</text>
<line x1="39.45" y1="230.90" x2="39.45" y2="298.00" stroke="#1a1a1a" stroke-width="1.25" />
<line x1="38.85" y1="297.40" x2="126.60" y2="297.40" stroke="#1a1a1a" stroke-width="1.25" />
<line x1="35.85" y1="297.40" x2="39.45" y2="297.40" stroke="#1a1a1a" stroke-width="1.1" />
<text x="28.16" y="299.85" font-size="8.1" font-weight="normal" fill="#231f20" stroke="#231f20" stroke-width="0.25" textLength="4.19" lengthAdjust="spacingAndGlyphs" >0</text>
<line x1="35.85" y1="284.87" x2="39.45" y2="284.87" stroke="#1a1a1a" stroke-width="1.1" />
<text x="23.98" y="287.32" font-size="8.1" font-weight="normal" fill="#231f20" stroke="#231f20" stroke-width="0.25" textLength="8.37" lengthAdjust="spacingAndGlyphs" >25</text>
<line x1="35.85" y1="272.34" x2="39.45" y2="272.34" stroke="#1a1a1a" stroke-width="1.1" />
<text x="23.98" y="274.79" font-size="8.1" font-weight="normal" fill="#231f20" stroke="#231f20" stroke-width="0.25" textLength="8.37" lengthAdjust="spacingAndGlyphs" >50</text>
<line x1="35.85" y1="259.81" x2="39.45" y2="259.81" stroke="#1a1a1a" stroke-width="1.1" />
<text x="23.98" y="262.26" font-size="8.1" font-weight="normal" fill="#231f20" stroke="#231f20" stroke-width="0.25" textLength="8.37" lengthAdjust="spacingAndGlyphs" >75</text>
<line x1="35.85" y1="247.28" x2="39.45" y2="247.28" stroke="#1a1a1a" stroke-width="1.1" />
<text x="19.79" y="249.73" font-size="8.1" font-weight="normal" fill="#231f20" stroke="#231f20" stroke-width="0.25" textLength="12.56" lengthAdjust="spacingAndGlyphs" >100</text>
<line x1="35.85" y1="234.75" x2="39.45" y2="234.75" stroke="#1a1a1a" stroke-width="1.1" />
<text x="19.79" y="237.20" font-size="8.1" font-weight="normal" fill="#231f20" stroke="#231f20" stroke-width="0.25" textLength="12.56" lengthAdjust="spacingAndGlyphs" >125</text>
<line x1="51.70" y1="297.40" x2="51.70" y2="300.70" stroke="#1a1a1a" stroke-width="1.1" />
<text x="46.47" y="308.80" font-size="8.1" font-weight="normal" fill="#231f20" stroke="#231f20" stroke-width="0.25" textLength="10.46" lengthAdjust="spacingAndGlyphs" >5:1</text>
<line x1="83.30" y1="297.40" x2="83.30" y2="300.70" stroke="#1a1a1a" stroke-width="1.1" />
<text x="78.07" y="308.80" font-size="8.1" font-weight="normal" fill="#231f20" stroke="#231f20" stroke-width="0.25" textLength="10.46" lengthAdjust="spacingAndGlyphs" >1:1</text>
<line x1="114.35" y1="297.40" x2="114.35" y2="300.70" stroke="#1a1a1a" stroke-width="1.1" />
<text x="109.12" y="308.80" font-size="8.1" font-weight="normal" fill="#231f20" stroke="#231f20" stroke-width="0.25" textLength="10.46" lengthAdjust="spacingAndGlyphs" >1:5</text>
<text x="253.10" y="0.00" font-size="9.0" font-weight="normal" fill="#231f20" stroke="#231f20" stroke-width="0.25" textLength="22.34" lengthAdjust="spacingAndGlyphs" transform="translate(14.05,528.90) rotate(-90)">% Lysis</text>
<text x="66.00" y="224.10" font-size="10.2" font-weight="normal" fill="#231f20" stroke="#231f20" stroke-width="0.25" textLength="33.93" lengthAdjust="spacingAndGlyphs" >Clone D</text>
<line x1="114.35" y1="289.60" x2="114.35" y2="295.60" stroke="#0d4b80" stroke-width="0.9" />
<line x1="112.95" y1="289.60" x2="115.75" y2="289.60" stroke="#0d4b80" stroke-width="0.9" />
<line x1="112.95" y1="295.60" x2="115.75" y2="295.60" stroke="#0d4b80" stroke-width="0.9" />
<polyline points="51.70,247.30 83.30,266.50 114.35,292.60" fill="none" stroke="#0d4b80" stroke-width="1.5" stroke-linejoin="round"/>
<rect x="50.00" y="245.60" width="3.4" height="3.4" fill="#0d4b80"/>
<rect x="81.60" y="264.80" width="3.4" height="3.4" fill="#0d4b80"/>
<rect x="112.65" y="290.90" width="3.4" height="3.4" fill="#0d4b80"/>
<polyline points="51.70,255.00 83.30,296.30 114.35,297.00" fill="none" stroke="#3fb54a" stroke-width="1.5" stroke-linejoin="round"/>
<polygon points="51.70,252.96 53.74,256.70 49.66,256.70" fill="#3fb54a"/>
<polygon points="83.30,294.26 85.34,298.00 81.26,298.00" fill="#3fb54a"/>
<polygon points="114.35,294.96 116.39,298.70 112.31,298.70" fill="#3fb54a"/>
<line x1="51.70" y1="251.10" x2="51.70" y2="256.10" stroke="#c8102e" stroke-width="0.9" />
<line x1="50.30" y1="251.10" x2="53.10" y2="251.10" stroke="#c8102e" stroke-width="0.9" />
<line x1="50.30" y1="256.10" x2="53.10" y2="256.10" stroke="#c8102e" stroke-width="0.9" />
<line x1="83.30" y1="287.80" x2="83.30" y2="290.80" stroke="#c8102e" stroke-width="0.9" />
<line x1="81.90" y1="287.80" x2="84.70" y2="287.80" stroke="#c8102e" stroke-width="0.9" />
<line x1="81.90" y1="290.80" x2="84.70" y2="290.80" stroke="#c8102e" stroke-width="0.9" />
<line x1="114.35" y1="289.50" x2="114.35" y2="295.50" stroke="#c8102e" stroke-width="0.9" />
<line x1="112.95" y1="289.50" x2="115.75" y2="289.50" stroke="#c8102e" stroke-width="0.9" />
<line x1="112.95" y1="295.50" x2="115.75" y2="295.50" stroke="#c8102e" stroke-width="0.9" />
<polyline points="51.70,253.60 83.30,289.30 114.35,292.50" fill="none" stroke="#c8102e" stroke-width="1.5" stroke-linejoin="round"/>
<circle cx="51.70" cy="253.60" r="1.7" fill="#c8102e"/>
<circle cx="83.30" cy="289.30" r="1.7" fill="#c8102e"/>
<circle cx="114.35" cy="292.50" r="1.7" fill="#c8102e"/>
<line x1="90.50" y1="235.70" x2="98.10" y2="235.70" stroke="#c8102e" stroke-width="1.3" />
<ellipse cx="94.30" cy="235.70" rx="1.9" ry="1.45" fill="#c8102e"/>
<text x="101.20" y="237.90" font-size="7.4" font-weight="normal" fill="#231f20" stroke="#231f20" stroke-width="0.25" textLength="18.03" lengthAdjust="spacingAndGlyphs" >ALNE</text>
<line x1="119.70" y1="238.90" x2="123.20" y2="238.90" stroke="#231f20" stroke-width="0.7" />
<line x1="90.50" y1="245.90" x2="98.10" y2="245.90" stroke="#0d4b80" stroke-width="1.3" />
<ellipse cx="94.30" cy="245.90" rx="1.9" ry="1.45" fill="#0d4b80"/>
<text x="101.20" y="248.10" font-size="7.4" font-weight="normal" fill="#231f20" stroke="#231f20" stroke-width="0.25" textLength="23.51" lengthAdjust="spacingAndGlyphs" >NDC80</text>
<line x1="90.50" y1="254.50" x2="98.10" y2="254.50" stroke="#3fb54a" stroke-width="1.3" />
<ellipse cx="94.30" cy="254.50" rx="1.9" ry="1.45" fill="#3fb54a"/>
<line x1="101.20" y1="257.70" x2="104.40" y2="257.70" stroke="#231f20" stroke-width="0.7" />
<text x="104.90" y="256.70" font-size="7.4" font-weight="normal" fill="#231f20" stroke="#231f20" stroke-width="0.25" textLength="14.50" lengthAdjust="spacingAndGlyphs" >IARL</text>
<line x1="166.50" y1="230.90" x2="166.50" y2="298.00" stroke="#1a1a1a" stroke-width="1.25" />
<line x1="165.90" y1="297.40" x2="251.90" y2="297.40" stroke="#1a1a1a" stroke-width="1.25" />
<line x1="162.90" y1="297.40" x2="166.50" y2="297.40" stroke="#1a1a1a" stroke-width="1.1" />
<text x="156.41" y="299.85" font-size="8.1" font-weight="normal" fill="#231f20" stroke="#231f20" stroke-width="0.25" textLength="4.19" lengthAdjust="spacingAndGlyphs" >0</text>
<line x1="162.90" y1="285.12" x2="166.50" y2="285.12" stroke="#1a1a1a" stroke-width="1.1" />
<text x="152.23" y="287.57" font-size="8.1" font-weight="normal" fill="#231f20" stroke="#231f20" stroke-width="0.25" textLength="8.37" lengthAdjust="spacingAndGlyphs" >25</text>
<line x1="162.90" y1="272.84" x2="166.50" y2="272.84" stroke="#1a1a1a" stroke-width="1.1" />
<text x="152.23" y="275.29" font-size="8.1" font-weight="normal" fill="#231f20" stroke="#231f20" stroke-width="0.25" textLength="8.37" lengthAdjust="spacingAndGlyphs" >50</text>
<line x1="162.90" y1="260.56" x2="166.50" y2="260.56" stroke="#1a1a1a" stroke-width="1.1" />
<text x="152.23" y="263.01" font-size="8.1" font-weight="normal" fill="#231f20" stroke="#231f20" stroke-width="0.25" textLength="8.37" lengthAdjust="spacingAndGlyphs" >75</text>
<line x1="162.90" y1="248.28" x2="166.50" y2="248.28" stroke="#1a1a1a" stroke-width="1.1" />
<text x="148.04" y="250.73" font-size="8.1" font-weight="normal" fill="#231f20" stroke="#231f20" stroke-width="0.25" textLength="12.56" lengthAdjust="spacingAndGlyphs" >100</text>
<line x1="162.90" y1="236.00" x2="166.50" y2="236.00" stroke="#1a1a1a" stroke-width="1.1" />
<text x="148.04" y="238.45" font-size="8.1" font-weight="normal" fill="#231f20" stroke="#231f20" stroke-width="0.25" textLength="12.56" lengthAdjust="spacingAndGlyphs" >125</text>
<line x1="178.75" y1="297.40" x2="178.75" y2="300.70" stroke="#1a1a1a" stroke-width="1.1" />
<text x="173.52" y="308.80" font-size="8.1" font-weight="normal" fill="#231f20" stroke="#231f20" stroke-width="0.25" textLength="10.46" lengthAdjust="spacingAndGlyphs" >5:1</text>
<line x1="209.50" y1="297.40" x2="209.50" y2="300.70" stroke="#1a1a1a" stroke-width="1.1" />
<text x="204.27" y="308.80" font-size="8.1" font-weight="normal" fill="#231f20" stroke="#231f20" stroke-width="0.25" textLength="10.46" lengthAdjust="spacingAndGlyphs" >1:1</text>
<line x1="240.10" y1="297.40" x2="240.10" y2="300.70" stroke="#1a1a1a" stroke-width="1.1" />
<text x="234.87" y="308.80" font-size="8.1" font-weight="normal" fill="#231f20" stroke="#231f20" stroke-width="0.25" textLength="10.46" lengthAdjust="spacingAndGlyphs" >1:5</text>
<text x="253.10" y="0.00" font-size="9.0" font-weight="normal" fill="#231f20" stroke="#231f20" stroke-width="0.25" textLength="22.34" lengthAdjust="spacingAndGlyphs" transform="translate(142.20,528.90) rotate(-90)">% Lysis</text>
<text x="192.90" y="224.30" font-size="10.2" font-weight="normal" fill="#231f20" stroke="#231f20" stroke-width="0.25" textLength="31.82" lengthAdjust="spacingAndGlyphs" >Clone E</text>
<line x1="209.50" y1="276.80" x2="209.50" y2="284.80" stroke="#0d4b80" stroke-width="0.9" />
<line x1="208.10" y1="276.80" x2="210.90" y2="276.80" stroke="#0d4b80" stroke-width="0.9" />
<line x1="208.10" y1="284.80" x2="210.90" y2="284.80" stroke="#0d4b80" stroke-width="0.9" />
<polyline points="178.75,246.50 209.50,280.80 240.10,295.80" fill="none" stroke="#0d4b80" stroke-width="1.5" stroke-linejoin="round"/>
<rect x="177.05" y="244.80" width="3.4" height="3.4" fill="#0d4b80"/>
<rect x="207.80" y="279.10" width="3.4" height="3.4" fill="#0d4b80"/>
<rect x="238.40" y="294.10" width="3.4" height="3.4" fill="#0d4b80"/>
<line x1="178.75" y1="273.00" x2="178.75" y2="282.00" stroke="#3fb54a" stroke-width="0.9" />
<line x1="177.35" y1="273.00" x2="180.15" y2="273.00" stroke="#3fb54a" stroke-width="0.9" />
<line x1="177.35" y1="282.00" x2="180.15" y2="282.00" stroke="#3fb54a" stroke-width="0.9" />
<polyline points="178.75,277.50 209.50,294.50 240.10,296.00" fill="none" stroke="#3fb54a" stroke-width="1.5" stroke-linejoin="round"/>
<polygon points="178.75,275.46 180.79,279.20 176.71,279.20" fill="#3fb54a"/>
<polygon points="209.50,292.46 211.54,296.20 207.46,296.20" fill="#3fb54a"/>
<polygon points="240.10,293.96 242.14,297.70 238.06,297.70" fill="#3fb54a"/>
<line x1="178.75" y1="281.00" x2="178.75" y2="285.00" stroke="#c8102e" stroke-width="0.9" />
<line x1="177.35" y1="281.00" x2="180.15" y2="281.00" stroke="#c8102e" stroke-width="0.9" />
<line x1="177.35" y1="285.00" x2="180.15" y2="285.00" stroke="#c8102e" stroke-width="0.9" />
<line x1="209.50" y1="292.30" x2="209.50" y2="294.30" stroke="#c8102e" stroke-width="0.9" />
<line x1="208.10" y1="292.30" x2="210.90" y2="292.30" stroke="#c8102e" stroke-width="0.9" />
<line x1="208.10" y1="294.30" x2="210.90" y2="294.30" stroke="#c8102e" stroke-width="0.9" />
<polyline points="178.75,283.00 209.50,293.30 240.10,295.50" fill="none" stroke="#c8102e" stroke-width="1.5" stroke-linejoin="round"/>
<circle cx="178.75" cy="283.00" r="1.7" fill="#c8102e"/>
<circle cx="209.50" cy="293.30" r="1.7" fill="#c8102e"/>
<circle cx="240.10" cy="295.50" r="1.7" fill="#c8102e"/>
<line x1="219.60" y1="235.70" x2="227.20" y2="235.70" stroke="#c8102e" stroke-width="1.3" />
<ellipse cx="223.40" cy="235.70" rx="1.9" ry="1.45" fill="#c8102e"/>
<text x="229.90" y="237.90" font-size="7.4" font-weight="normal" fill="#231f20" stroke="#231f20" stroke-width="0.25" textLength="18.03" lengthAdjust="spacingAndGlyphs" >ALNE</text>
<line x1="248.40" y1="238.90" x2="251.90" y2="238.90" stroke="#231f20" stroke-width="0.7" />
<line x1="219.60" y1="245.70" x2="227.20" y2="245.70" stroke="#0d4b80" stroke-width="1.3" />
<ellipse cx="223.40" cy="245.70" rx="1.9" ry="1.45" fill="#0d4b80"/>
<text x="229.90" y="247.90" font-size="7.4" font-weight="normal" fill="#231f20" stroke="#231f20" stroke-width="0.25" textLength="23.51" lengthAdjust="spacingAndGlyphs" >NDC80</text>
<line x1="219.60" y1="254.30" x2="227.20" y2="254.30" stroke="#3fb54a" stroke-width="1.3" />
<ellipse cx="223.40" cy="254.30" rx="1.9" ry="1.45" fill="#3fb54a"/>
<line x1="229.90" y1="257.50" x2="233.10" y2="257.50" stroke="#231f20" stroke-width="0.7" />
<text x="233.60" y="256.50" font-size="7.4" font-weight="normal" fill="#231f20" stroke="#231f20" stroke-width="0.25" textLength="14.50" lengthAdjust="spacingAndGlyphs" >IARL</text>
<line x1="296.90" y1="230.80" x2="296.90" y2="298.00" stroke="#1a1a1a" stroke-width="1.25" />
<line x1="296.30" y1="297.40" x2="383.40" y2="297.40" stroke="#1a1a1a" stroke-width="1.25" />
<line x1="293.30" y1="297.40" x2="296.90" y2="297.40" stroke="#1a1a1a" stroke-width="1.1" />
<text x="286.81" y="299.85" font-size="8.1" font-weight="normal" fill="#231f20" stroke="#231f20" stroke-width="0.25" textLength="4.19" lengthAdjust="spacingAndGlyphs" >0</text>
<line x1="293.30" y1="285.01" x2="296.90" y2="285.01" stroke="#1a1a1a" stroke-width="1.1" />
<text x="282.63" y="287.46" font-size="8.1" font-weight="normal" fill="#231f20" stroke="#231f20" stroke-width="0.25" textLength="8.37" lengthAdjust="spacingAndGlyphs" >25</text>
<line x1="293.30" y1="272.62" x2="296.90" y2="272.62" stroke="#1a1a1a" stroke-width="1.1" />
<text x="282.63" y="275.07" font-size="8.1" font-weight="normal" fill="#231f20" stroke="#231f20" stroke-width="0.25" textLength="8.37" lengthAdjust="spacingAndGlyphs" >50</text>
<line x1="293.30" y1="260.23" x2="296.90" y2="260.23" stroke="#1a1a1a" stroke-width="1.1" />
<text x="282.63" y="262.68" font-size="8.1" font-weight="normal" fill="#231f20" stroke="#231f20" stroke-width="0.25" textLength="8.37" lengthAdjust="spacingAndGlyphs" >75</text>
<line x1="293.30" y1="247.84" x2="296.90" y2="247.84" stroke="#1a1a1a" stroke-width="1.1" />
<text x="278.44" y="250.29" font-size="8.1" font-weight="normal" fill="#231f20" stroke="#231f20" stroke-width="0.25" textLength="12.56" lengthAdjust="spacingAndGlyphs" >100</text>
<line x1="293.30" y1="235.45" x2="296.90" y2="235.45" stroke="#1a1a1a" stroke-width="1.1" />
<text x="278.44" y="237.90" font-size="8.1" font-weight="normal" fill="#231f20" stroke="#231f20" stroke-width="0.25" textLength="12.56" lengthAdjust="spacingAndGlyphs" >125</text>
<line x1="309.25" y1="297.40" x2="309.25" y2="300.70" stroke="#1a1a1a" stroke-width="1.1" />
<text x="304.02" y="308.80" font-size="8.1" font-weight="normal" fill="#231f20" stroke="#231f20" stroke-width="0.25" textLength="10.46" lengthAdjust="spacingAndGlyphs" >5:1</text>
<line x1="340.00" y1="297.40" x2="340.00" y2="300.70" stroke="#1a1a1a" stroke-width="1.1" />
<text x="334.77" y="308.80" font-size="8.1" font-weight="normal" fill="#231f20" stroke="#231f20" stroke-width="0.25" textLength="10.46" lengthAdjust="spacingAndGlyphs" >1:1</text>
<line x1="371.25" y1="297.40" x2="371.25" y2="300.70" stroke="#1a1a1a" stroke-width="1.1" />
<text x="366.02" y="308.80" font-size="8.1" font-weight="normal" fill="#231f20" stroke="#231f20" stroke-width="0.25" textLength="10.46" lengthAdjust="spacingAndGlyphs" >1:5</text>
<text x="253.10" y="0.00" font-size="9.0" font-weight="normal" fill="#231f20" stroke="#231f20" stroke-width="0.25" textLength="22.34" lengthAdjust="spacingAndGlyphs" transform="translate(272.85,528.90) rotate(-90)">% Lysis</text>
<text x="323.80" y="224.30" font-size="10.2" font-weight="normal" fill="#231f20" stroke="#231f20" stroke-width="0.25" textLength="31.60" lengthAdjust="spacingAndGlyphs" >Clone F</text>
<line x1="309.25" y1="266.50" x2="309.25" y2="271.50" stroke="#0d4b80" stroke-width="0.9" />
<line x1="307.85" y1="266.50" x2="310.65" y2="266.50" stroke="#0d4b80" stroke-width="0.9" />
<line x1="307.85" y1="271.50" x2="310.65" y2="271.50" stroke="#0d4b80" stroke-width="0.9" />
<line x1="340.00" y1="278.80" x2="340.00" y2="284.80" stroke="#0d4b80" stroke-width="0.9" />
<line x1="338.60" y1="278.80" x2="341.40" y2="278.80" stroke="#0d4b80" stroke-width="0.9" />
<line x1="338.60" y1="284.80" x2="341.40" y2="284.80" stroke="#0d4b80" stroke-width="0.9" />
<line x1="371.25" y1="285.30" x2="371.25" y2="289.30" stroke="#0d4b80" stroke-width="0.9" />
<line x1="369.85" y1="285.30" x2="372.65" y2="285.30" stroke="#0d4b80" stroke-width="0.9" />
<line x1="369.85" y1="289.30" x2="372.65" y2="289.30" stroke="#0d4b80" stroke-width="0.9" />
<polyline points="309.25,269.00 340.00,281.80 371.25,287.30" fill="none" stroke="#0d4b80" stroke-width="1.5" stroke-linejoin="round"/>
<rect x="307.55" y="267.30" width="3.4" height="3.4" fill="#0d4b80"/>
<rect x="338.30" y="280.10" width="3.4" height="3.4" fill="#0d4b80"/>
<rect x="369.55" y="285.60" width="3.4" height="3.4" fill="#0d4b80"/>
<polyline points="309.25,283.80 340.00,296.30 371.25,294.00" fill="none" stroke="#3fb54a" stroke-width="1.5" stroke-linejoin="round"/>
<polygon points="309.25,281.76 311.29,285.50 307.21,285.50" fill="#3fb54a"/>
<polygon points="340.00,294.26 342.04,298.00 337.96,298.00" fill="#3fb54a"/>
<polygon points="371.25,291.96 373.29,295.70 369.21,295.70" fill="#3fb54a"/>
<line x1="309.25" y1="268.80" x2="309.25" y2="288.80" stroke="#c8102e" stroke-width="0.9" />
<line x1="307.85" y1="268.80" x2="310.65" y2="268.80" stroke="#c8102e" stroke-width="0.9" />
<line x1="307.85" y1="288.80" x2="310.65" y2="288.80" stroke="#c8102e" stroke-width="0.9" />
<line x1="340.00" y1="290.80" x2="340.00" y2="295.80" stroke="#c8102e" stroke-width="0.9" />
<line x1="338.60" y1="290.80" x2="341.40" y2="290.80" stroke="#c8102e" stroke-width="0.9" />
<line x1="338.60" y1="295.80" x2="341.40" y2="295.80" stroke="#c8102e" stroke-width="0.9" />
<polyline points="309.25,278.80 340.00,293.30 371.25,294.80" fill="none" stroke="#c8102e" stroke-width="1.5" stroke-linejoin="round"/>
<circle cx="309.25" cy="278.80" r="1.7" fill="#c8102e"/>
<circle cx="340.00" cy="293.30" r="1.7" fill="#c8102e"/>
<circle cx="371.25" cy="294.80" r="1.7" fill="#c8102e"/>
<line x1="352.70" y1="235.70" x2="360.30" y2="235.70" stroke="#c8102e" stroke-width="1.3" />
<ellipse cx="356.50" cy="235.70" rx="1.9" ry="1.45" fill="#c8102e"/>
<text x="363.20" y="237.90" font-size="7.4" font-weight="normal" fill="#231f20" stroke="#231f20" stroke-width="0.25" textLength="18.03" lengthAdjust="spacingAndGlyphs" >ALNE</text>
<line x1="381.70" y1="238.90" x2="385.20" y2="238.90" stroke="#231f20" stroke-width="0.7" />
<line x1="352.70" y1="245.90" x2="360.30" y2="245.90" stroke="#0d4b80" stroke-width="1.3" />
<ellipse cx="356.50" cy="245.90" rx="1.9" ry="1.45" fill="#0d4b80"/>
<text x="363.20" y="248.10" font-size="7.4" font-weight="normal" fill="#231f20" stroke="#231f20" stroke-width="0.25" textLength="23.51" lengthAdjust="spacingAndGlyphs" >NDC80</text>
<line x1="352.70" y1="254.50" x2="360.30" y2="254.50" stroke="#3fb54a" stroke-width="1.3" />
<ellipse cx="356.50" cy="254.50" rx="1.9" ry="1.45" fill="#3fb54a"/>
<line x1="363.20" y1="257.70" x2="366.40" y2="257.70" stroke="#231f20" stroke-width="0.7" />
<text x="366.90" y="256.70" font-size="7.4" font-weight="normal" fill="#231f20" stroke="#231f20" stroke-width="0.25" textLength="14.50" lengthAdjust="spacingAndGlyphs" >IARL</text>
<line x1="39.45" y1="358.10" x2="39.45" y2="429.00" stroke="#1a1a1a" stroke-width="1.25" />
<line x1="38.85" y1="428.40" x2="129.90" y2="428.40" stroke="#1a1a1a" stroke-width="1.25" />
<line x1="35.85" y1="428.40" x2="39.45" y2="428.40" stroke="#1a1a1a" stroke-width="1.1" />
<text x="28.16" y="430.85" font-size="8.1" font-weight="normal" fill="#231f20" stroke="#231f20" stroke-width="0.25" textLength="4.19" lengthAdjust="spacingAndGlyphs" >0</text>
<line x1="35.85" y1="415.21" x2="39.45" y2="415.21" stroke="#1a1a1a" stroke-width="1.1" />
<text x="23.98" y="417.66" font-size="8.1" font-weight="normal" fill="#231f20" stroke="#231f20" stroke-width="0.25" textLength="8.37" lengthAdjust="spacingAndGlyphs" >20</text>
<line x1="35.85" y1="402.02" x2="39.45" y2="402.02" stroke="#1a1a1a" stroke-width="1.1" />
<text x="23.98" y="404.47" font-size="8.1" font-weight="normal" fill="#231f20" stroke="#231f20" stroke-width="0.25" textLength="8.37" lengthAdjust="spacingAndGlyphs" >40</text>
<line x1="35.85" y1="388.83" x2="39.45" y2="388.83" stroke="#1a1a1a" stroke-width="1.1" />
<text x="23.98" y="391.28" font-size="8.1" font-weight="normal" fill="#231f20" stroke="#231f20" stroke-width="0.25" textLength="8.37" lengthAdjust="spacingAndGlyphs" >60</text>
<line x1="35.85" y1="375.64" x2="39.45" y2="375.64" stroke="#1a1a1a" stroke-width="1.1" />
<text x="23.98" y="378.09" font-size="8.1" font-weight="normal" fill="#231f20" stroke="#231f20" stroke-width="0.25" textLength="8.37" lengthAdjust="spacingAndGlyphs" >80</text>
<line x1="35.85" y1="362.45" x2="39.45" y2="362.45" stroke="#1a1a1a" stroke-width="1.1" />
<text x="19.79" y="364.90" font-size="8.1" font-weight="normal" fill="#231f20" stroke="#231f20" stroke-width="0.25" textLength="12.56" lengthAdjust="spacingAndGlyphs" >100</text>
<line x1="48.60" y1="428.40" x2="48.60" y2="431.70" stroke="#1a1a1a" stroke-width="1.1" />
<text x="41.27" y="440.70" font-size="8.1" font-weight="normal" fill="#231f20" stroke="#231f20" stroke-width="0.25" textLength="14.65" lengthAdjust="spacingAndGlyphs" >25:1</text>
<line x1="73.40" y1="428.40" x2="73.40" y2="431.70" stroke="#1a1a1a" stroke-width="1.1" />
<text x="68.17" y="440.70" font-size="8.1" font-weight="normal" fill="#231f20" stroke="#231f20" stroke-width="0.25" textLength="10.46" lengthAdjust="spacingAndGlyphs" >5:1</text>
<line x1="98.00" y1="428.40" x2="98.00" y2="431.70" stroke="#1a1a1a" stroke-width="1.1" />
<text x="92.77" y="440.70" font-size="8.1" font-weight="normal" fill="#231f20" stroke="#231f20" stroke-width="0.25" textLength="10.46" lengthAdjust="spacingAndGlyphs" >1:1</text>
<line x1="122.80" y1="428.40" x2="122.80" y2="431.70" stroke="#1a1a1a" stroke-width="1.1" />
<text x="117.57" y="440.70" font-size="8.1" font-weight="normal" fill="#231f20" stroke="#231f20" stroke-width="0.25" textLength="10.46" lengthAdjust="spacingAndGlyphs" >1:5</text>
<text x="385.10" y="0.00" font-size="9.0" font-weight="normal" fill="#231f20" stroke="#231f20" stroke-width="0.25" textLength="22.34" lengthAdjust="spacingAndGlyphs" transform="translate(14.05,792.90) rotate(-90)">% Lysis</text>
<text x="74.20" y="351.60" font-size="10.2" font-weight="normal" fill="#231f20" stroke="#231f20" stroke-width="0.25" textLength="20.32" lengthAdjust="spacingAndGlyphs" >HL60</text>
<line x1="98.00" y1="422.40" x2="98.00" y2="424.40" stroke="#0d4b80" stroke-width="0.9" />
<line x1="96.60" y1="422.40" x2="99.40" y2="422.40" stroke="#0d4b80" stroke-width="0.9" />
<line x1="96.60" y1="424.40" x2="99.40" y2="424.40" stroke="#0d4b80" stroke-width="0.9" />
<polyline points="48.60,419.50 73.40,419.50 98.00,423.40 122.80,427.60" fill="none" stroke="#0d4b80" stroke-width="1.5" stroke-linejoin="round"/>
<rect x="46.90" y="417.80" width="3.4" height="3.4" fill="#0d4b80"/>
<rect x="71.70" y="417.80" width="3.4" height="3.4" fill="#0d4b80"/>
<rect x="96.30" y="421.70" width="3.4" height="3.4" fill="#0d4b80"/>
<rect x="121.10" y="425.90" width="3.4" height="3.4" fill="#0d4b80"/>
<polyline points="48.60,419.90 73.40,421.10 98.00,424.50 122.80,426.00" fill="none" stroke="#c8102e" stroke-width="1.5" stroke-linejoin="round"/>
<circle cx="48.60" cy="419.90" r="1.7" fill="#c8102e"/>
<circle cx="73.40" cy="421.10" r="1.7" fill="#c8102e"/>
<circle cx="98.00" cy="424.50" r="1.7" fill="#c8102e"/>
<circle cx="122.80" cy="426.00" r="1.7" fill="#c8102e"/>
<line x1="90.30" y1="366.30" x2="97.90" y2="366.30" stroke="#c8102e" stroke-width="1.3" />
<ellipse cx="94.10" cy="366.30" rx="1.9" ry="1.45" fill="#c8102e"/>
<text x="101.10" y="368.60" font-size="7.3999999999999995" font-weight="normal" fill="#231f20" stroke="#231f20" stroke-width="0.25" textLength="17.40" lengthAdjust="spacingAndGlyphs" >Mock</text>
<line x1="90.30" y1="375.50" x2="97.90" y2="375.50" stroke="#0d4b80" stroke-width="1.3" />
<ellipse cx="94.10" cy="375.50" rx="1.9" ry="1.45" fill="#0d4b80"/>
<text x="101.10" y="377.60" font-size="7.4" font-weight="normal" fill="#231f20" stroke="#231f20" stroke-width="0.25" textLength="24.78" lengthAdjust="spacingAndGlyphs" >Clone C</text>
<text x="44.70" y="366.85" font-size="7.8" font-weight="normal" fill="#231f20" stroke="#231f20" stroke-width="0.25" textLength="33.65" lengthAdjust="spacingAndGlyphs" >A*02 neg</text>
<line x1="166.50" y1="358.00" x2="166.50" y2="429.00" stroke="#1a1a1a" stroke-width="1.25" />
<line x1="165.90" y1="428.40" x2="254.80" y2="428.40" stroke="#1a1a1a" stroke-width="1.25" />
<line x1="162.90" y1="428.40" x2="166.50" y2="428.40" stroke="#1a1a1a" stroke-width="1.1" />
<text x="156.41" y="430.85" font-size="8.1" font-weight="normal" fill="#231f20" stroke="#231f20" stroke-width="0.25" textLength="4.19" lengthAdjust="spacingAndGlyphs" >0</text>
<line x1="162.90" y1="415.21" x2="166.50" y2="415.21" stroke="#1a1a1a" stroke-width="1.1" />
<text x="152.23" y="417.66" font-size="8.1" font-weight="normal" fill="#231f20" stroke="#231f20" stroke-width="0.25" textLength="8.37" lengthAdjust="spacingAndGlyphs" >20</text>
<line x1="162.90" y1="402.02" x2="166.50" y2="402.02" stroke="#1a1a1a" stroke-width="1.1" />
<text x="152.23" y="404.47" font-size="8.1" font-weight="normal" fill="#231f20" stroke="#231f20" stroke-width="0.25" textLength="8.37" lengthAdjust="spacingAndGlyphs" >40</text>
<line x1="162.90" y1="388.83" x2="166.50" y2="388.83" stroke="#1a1a1a" stroke-width="1.1" />
<text x="152.23" y="391.28" font-size="8.1" font-weight="normal" fill="#231f20" stroke="#231f20" stroke-width="0.25" textLength="8.37" lengthAdjust="spacingAndGlyphs" >60</text>
<line x1="162.90" y1="375.64" x2="166.50" y2="375.64" stroke="#1a1a1a" stroke-width="1.1" />
<text x="152.23" y="378.09" font-size="8.1" font-weight="normal" fill="#231f20" stroke="#231f20" stroke-width="0.25" textLength="8.37" lengthAdjust="spacingAndGlyphs" >80</text>
<line x1="162.90" y1="362.45" x2="166.50" y2="362.45" stroke="#1a1a1a" stroke-width="1.1" />
<text x="148.04" y="364.90" font-size="8.1" font-weight="normal" fill="#231f20" stroke="#231f20" stroke-width="0.25" textLength="12.56" lengthAdjust="spacingAndGlyphs" >100</text>
<line x1="175.50" y1="428.40" x2="175.50" y2="431.70" stroke="#1a1a1a" stroke-width="1.1" />
<text x="168.17" y="440.70" font-size="8.1" font-weight="normal" fill="#231f20" stroke="#231f20" stroke-width="0.25" textLength="14.65" lengthAdjust="spacingAndGlyphs" >25:1</text>
<line x1="198.75" y1="428.40" x2="198.75" y2="431.70" stroke="#1a1a1a" stroke-width="1.1" />
<text x="193.52" y="440.70" font-size="8.1" font-weight="normal" fill="#231f20" stroke="#231f20" stroke-width="0.25" textLength="10.46" lengthAdjust="spacingAndGlyphs" >5:1</text>
<line x1="223.25" y1="428.40" x2="223.25" y2="431.70" stroke="#1a1a1a" stroke-width="1.1" />
<text x="218.02" y="440.70" font-size="8.1" font-weight="normal" fill="#231f20" stroke="#231f20" stroke-width="0.25" textLength="10.46" lengthAdjust="spacingAndGlyphs" >1:1</text>
<line x1="247.70" y1="428.40" x2="247.70" y2="431.70" stroke="#1a1a1a" stroke-width="1.1" />
<text x="242.47" y="440.70" font-size="8.1" font-weight="normal" fill="#231f20" stroke="#231f20" stroke-width="0.25" textLength="10.46" lengthAdjust="spacingAndGlyphs" >1:5</text>
<text x="385.10" y="0.00" font-size="9.0" font-weight="normal" fill="#231f20" stroke="#231f20" stroke-width="0.25" textLength="22.34" lengthAdjust="spacingAndGlyphs" transform="translate(142.25,792.90) rotate(-90)">% Lysis</text>
<text x="193.20" y="351.40" font-size="10.2" font-weight="normal" fill="#231f20" stroke="#231f20" stroke-width="0.25" textLength="33.82" lengthAdjust="spacingAndGlyphs" >SUDHL4</text>
<line x1="175.50" y1="406.50" x2="175.50" y2="409.50" stroke="#0d4b80" stroke-width="0.9" />
<line x1="174.10" y1="406.50" x2="176.90" y2="406.50" stroke="#0d4b80" stroke-width="0.9" />
<line x1="174.10" y1="409.50" x2="176.90" y2="409.50" stroke="#0d4b80" stroke-width="0.9" />
<line x1="198.75" y1="414.50" x2="198.75" y2="418.50" stroke="#0d4b80" stroke-width="0.9" />
<line x1="197.35" y1="414.50" x2="200.15" y2="414.50" stroke="#0d4b80" stroke-width="0.9" />
<line x1="197.35" y1="418.50" x2="200.15" y2="418.50" stroke="#0d4b80" stroke-width="0.9" />
<line x1="223.25" y1="418.00" x2="223.25" y2="422.00" stroke="#0d4b80" stroke-width="0.9" />
<line x1="221.85" y1="418.00" x2="224.65" y2="418.00" stroke="#0d4b80" stroke-width="0.9" />
<line x1="221.85" y1="422.00" x2="224.65" y2="422.00" stroke="#0d4b80" stroke-width="0.9" />
<line x1="247.70" y1="421.20" x2="247.70" y2="424.20" stroke="#0d4b80" stroke-width="0.9" />
<line x1="246.30" y1="421.20" x2="249.10" y2="421.20" stroke="#0d4b80" stroke-width="0.9" />
<line x1="246.30" y1="424.20" x2="249.10" y2="424.20" stroke="#0d4b80" stroke-width="0.9" />
<polyline points="175.50,408.00 198.75,416.50 223.25,420.00 247.70,422.70" fill="none" stroke="#0d4b80" stroke-width="1.5" stroke-linejoin="round"/>
<rect x="173.80" y="406.30" width="3.4" height="3.4" fill="#0d4b80"/>
<rect x="197.05" y="414.80" width="3.4" height="3.4" fill="#0d4b80"/>
<rect x="221.55" y="418.30" width="3.4" height="3.4" fill="#0d4b80"/>
<rect x="246.00" y="421.00" width="3.4" height="3.4" fill="#0d4b80"/>
<line x1="175.50" y1="408.30" x2="175.50" y2="414.30" stroke="#c8102e" stroke-width="0.9" />
<line x1="174.10" y1="408.30" x2="176.90" y2="408.30" stroke="#c8102e" stroke-width="0.9" />
<line x1="174.10" y1="414.30" x2="176.90" y2="414.30" stroke="#c8102e" stroke-width="0.9" />
<line x1="198.75" y1="412.30" x2="198.75" y2="418.30" stroke="#c8102e" stroke-width="0.9" />
<line x1="197.35" y1="412.30" x2="200.15" y2="412.30" stroke="#c8102e" stroke-width="0.9" />
<line x1="197.35" y1="418.30" x2="200.15" y2="418.30" stroke="#c8102e" stroke-width="0.9" />
<line x1="223.25" y1="415.50" x2="223.25" y2="421.50" stroke="#c8102e" stroke-width="0.9" />
<line x1="221.85" y1="415.50" x2="224.65" y2="415.50" stroke="#c8102e" stroke-width="0.9" />
<line x1="221.85" y1="421.50" x2="224.65" y2="421.50" stroke="#c8102e" stroke-width="0.9" />
<line x1="247.70" y1="419.00" x2="247.70" y2="422.00" stroke="#c8102e" stroke-width="0.9" />
<line x1="246.30" y1="419.00" x2="249.10" y2="419.00" stroke="#c8102e" stroke-width="0.9" />
<line x1="246.30" y1="422.00" x2="249.10" y2="422.00" stroke="#c8102e" stroke-width="0.9" />
<polyline points="175.50,411.30 198.75,415.30 223.25,418.50 247.70,420.50" fill="none" stroke="#c8102e" stroke-width="1.5" stroke-linejoin="round"/>
<circle cx="175.50" cy="411.30" r="1.7" fill="#c8102e"/>
<circle cx="198.75" cy="415.30" r="1.7" fill="#c8102e"/>
<circle cx="223.25" cy="418.50" r="1.7" fill="#c8102e"/>
<circle cx="247.70" cy="420.50" r="1.7" fill="#c8102e"/>
<line x1="219.60" y1="366.30" x2="227.20" y2="366.30" stroke="#c8102e" stroke-width="1.3" />
<ellipse cx="223.40" cy="366.30" rx="1.9" ry="1.45" fill="#c8102e"/>
<text x="230.10" y="368.60" font-size="7.3999999999999995" font-weight="normal" fill="#231f20" stroke="#231f20" stroke-width="0.25" textLength="17.40" lengthAdjust="spacingAndGlyphs" >Mock</text>
<line x1="219.60" y1="375.50" x2="227.20" y2="375.50" stroke="#0d4b80" stroke-width="1.3" />
<ellipse cx="223.40" cy="375.50" rx="1.9" ry="1.45" fill="#0d4b80"/>
<text x="230.10" y="377.60" font-size="7.4" font-weight="normal" fill="#231f20" stroke="#231f20" stroke-width="0.25" textLength="24.78" lengthAdjust="spacingAndGlyphs" >Clone C</text>
<text x="171.65" y="365.70" font-size="7.8" font-weight="normal" fill="#231f20" stroke="#231f20" stroke-width="0.25" textLength="42.31" lengthAdjust="spacingAndGlyphs" >ALNEQIARL</text>
<text x="171.85" y="375.80" font-size="7.8" font-weight="normal" fill="#231f20" stroke="#231f20" stroke-width="0.25" textLength="13.81" lengthAdjust="spacingAndGlyphs" >neg</text>
<line x1="296.80" y1="358.00" x2="296.80" y2="429.00" stroke="#1a1a1a" stroke-width="1.25" />
<line x1="296.20" y1="428.40" x2="387.20" y2="428.40" stroke="#1a1a1a" stroke-width="1.25" />
<line x1="293.20" y1="428.40" x2="296.80" y2="428.40" stroke="#1a1a1a" stroke-width="1.1" />
<text x="286.71" y="430.85" font-size="8.1" font-weight="normal" fill="#231f20" stroke="#231f20" stroke-width="0.25" textLength="4.19" lengthAdjust="spacingAndGlyphs" >0</text>
<line x1="293.20" y1="415.23" x2="296.80" y2="415.23" stroke="#1a1a1a" stroke-width="1.1" />
<text x="282.53" y="417.68" font-size="8.1" font-weight="normal" fill="#231f20" stroke="#231f20" stroke-width="0.25" textLength="8.37" lengthAdjust="spacingAndGlyphs" >20</text>
<line x1="293.20" y1="402.06" x2="296.80" y2="402.06" stroke="#1a1a1a" stroke-width="1.1" />
<text x="282.53" y="404.51" font-size="8.1" font-weight="normal" fill="#231f20" stroke="#231f20" stroke-width="0.25" textLength="8.37" lengthAdjust="spacingAndGlyphs" >40</text>
<line x1="293.20" y1="388.89" x2="296.80" y2="388.89" stroke="#1a1a1a" stroke-width="1.1" />
<text x="282.53" y="391.34" font-size="8.1" font-weight="normal" fill="#231f20" stroke="#231f20" stroke-width="0.25" textLength="8.37" lengthAdjust="spacingAndGlyphs" >60</text>
<line x1="293.20" y1="375.72" x2="296.80" y2="375.72" stroke="#1a1a1a" stroke-width="1.1" />
<text x="282.53" y="378.17" font-size="8.1" font-weight="normal" fill="#231f20" stroke="#231f20" stroke-width="0.25" textLength="8.37" lengthAdjust="spacingAndGlyphs" >80</text>
<line x1="293.20" y1="362.55" x2="296.80" y2="362.55" stroke="#1a1a1a" stroke-width="1.1" />
<text x="278.34" y="365.00" font-size="8.1" font-weight="normal" fill="#231f20" stroke="#231f20" stroke-width="0.25" textLength="12.56" lengthAdjust="spacingAndGlyphs" >100</text>
<line x1="305.75" y1="428.40" x2="305.75" y2="431.70" stroke="#1a1a1a" stroke-width="1.1" />
<text x="298.42" y="440.70" font-size="8.1" font-weight="normal" fill="#231f20" stroke="#231f20" stroke-width="0.25" textLength="14.65" lengthAdjust="spacingAndGlyphs" >25:1</text>
<line x1="330.75" y1="428.40" x2="330.75" y2="431.70" stroke="#1a1a1a" stroke-width="1.1" />
<text x="325.52" y="440.70" font-size="8.1" font-weight="normal" fill="#231f20" stroke="#231f20" stroke-width="0.25" textLength="10.46" lengthAdjust="spacingAndGlyphs" >5:1</text>
<line x1="355.50" y1="428.40" x2="355.50" y2="431.70" stroke="#1a1a1a" stroke-width="1.1" />
<text x="350.27" y="440.70" font-size="8.1" font-weight="normal" fill="#231f20" stroke="#231f20" stroke-width="0.25" textLength="10.46" lengthAdjust="spacingAndGlyphs" >1:1</text>
<line x1="380.10" y1="428.40" x2="380.10" y2="431.70" stroke="#1a1a1a" stroke-width="1.1" />
<text x="374.87" y="440.70" font-size="8.1" font-weight="normal" fill="#231f20" stroke="#231f20" stroke-width="0.25" textLength="10.46" lengthAdjust="spacingAndGlyphs" >1:5</text>
<text x="385.10" y="0.00" font-size="9.0" font-weight="normal" fill="#231f20" stroke="#231f20" stroke-width="0.25" textLength="22.34" lengthAdjust="spacingAndGlyphs" transform="translate(272.85,792.90) rotate(-90)">% Lysis</text>
<text x="317.25" y="351.40" font-size="10.2" font-weight="normal" fill="#231f20" stroke="#231f20" stroke-width="0.25" textLength="49.34" lengthAdjust="spacingAndGlyphs" >OCI-AML02</text>
<line x1="305.75" y1="367.80" x2="305.75" y2="375.80" stroke="#0d4b80" stroke-width="0.9" />
<line x1="304.35" y1="367.80" x2="307.15" y2="367.80" stroke="#0d4b80" stroke-width="0.9" />
<line x1="304.35" y1="375.80" x2="307.15" y2="375.80" stroke="#0d4b80" stroke-width="0.9" />
<line x1="330.75" y1="367.30" x2="330.75" y2="381.30" stroke="#0d4b80" stroke-width="0.9" />
<line x1="329.35" y1="367.30" x2="332.15" y2="367.30" stroke="#0d4b80" stroke-width="0.9" />
<line x1="329.35" y1="381.30" x2="332.15" y2="381.30" stroke="#0d4b80" stroke-width="0.9" />
<line x1="355.50" y1="381.30" x2="355.50" y2="390.30" stroke="#0d4b80" stroke-width="0.9" />
<line x1="354.10" y1="381.30" x2="356.90" y2="381.30" stroke="#0d4b80" stroke-width="0.9" />
<line x1="354.10" y1="390.30" x2="356.90" y2="390.30" stroke="#0d4b80" stroke-width="0.9" />
<line x1="380.10" y1="405.50" x2="380.10" y2="413.50" stroke="#0d4b80" stroke-width="0.9" />
<line x1="378.70" y1="405.50" x2="381.50" y2="405.50" stroke="#0d4b80" stroke-width="0.9" />
<line x1="378.70" y1="413.50" x2="381.50" y2="413.50" stroke="#0d4b80" stroke-width="0.9" />
<polyline points="305.75,371.80 330.75,374.30 355.50,385.80 380.10,409.50" fill="none" stroke="#0d4b80" stroke-width="1.5" stroke-linejoin="round"/>
<rect x="304.05" y="370.10" width="3.4" height="3.4" fill="#0d4b80"/>
<rect x="329.05" y="372.60" width="3.4" height="3.4" fill="#0d4b80"/>
<rect x="353.80" y="384.10" width="3.4" height="3.4" fill="#0d4b80"/>
<rect x="378.40" y="407.80" width="3.4" height="3.4" fill="#0d4b80"/>
<line x1="305.75" y1="410.30" x2="305.75" y2="417.30" stroke="#c8102e" stroke-width="0.9" />
<line x1="304.35" y1="410.30" x2="307.15" y2="410.30" stroke="#c8102e" stroke-width="0.9" />
<line x1="304.35" y1="417.30" x2="307.15" y2="417.30" stroke="#c8102e" stroke-width="0.9" />
<line x1="330.75" y1="415.80" x2="330.75" y2="421.80" stroke="#c8102e" stroke-width="0.9" />
<line x1="329.35" y1="415.80" x2="332.15" y2="415.80" stroke="#c8102e" stroke-width="0.9" />
<line x1="329.35" y1="421.80" x2="332.15" y2="421.80" stroke="#c8102e" stroke-width="0.9" />
<line x1="355.50" y1="419.30" x2="355.50" y2="423.30" stroke="#c8102e" stroke-width="0.9" />
<line x1="354.10" y1="419.30" x2="356.90" y2="419.30" stroke="#c8102e" stroke-width="0.9" />
<line x1="354.10" y1="423.30" x2="356.90" y2="423.30" stroke="#c8102e" stroke-width="0.9" />
<line x1="380.10" y1="423.80" x2="380.10" y2="427.80" stroke="#c8102e" stroke-width="0.9" />
<line x1="378.70" y1="423.80" x2="381.50" y2="423.80" stroke="#c8102e" stroke-width="0.9" />
<line x1="378.70" y1="427.80" x2="381.50" y2="427.80" stroke="#c8102e" stroke-width="0.9" />
<polyline points="305.75,413.80 330.75,418.80 355.50,421.30 380.10,425.80" fill="none" stroke="#c8102e" stroke-width="1.5" stroke-linejoin="round"/>
<circle cx="305.75" cy="413.80" r="1.7" fill="#c8102e"/>
<circle cx="330.75" cy="418.80" r="1.7" fill="#c8102e"/>
<circle cx="355.50" cy="421.30" r="1.7" fill="#c8102e"/>
<circle cx="380.10" cy="425.80" r="1.7" fill="#c8102e"/>
<line x1="352.70" y1="366.30" x2="360.30" y2="366.30" stroke="#c8102e" stroke-width="1.3" />
<ellipse cx="356.50" cy="366.30" rx="1.9" ry="1.45" fill="#c8102e"/>
<text x="362.70" y="368.60" font-size="6.271186440677966" font-weight="normal" fill="#231f20" stroke="#231f20" stroke-width="0.25" textLength="14.18" lengthAdjust="spacingAndGlyphs" >Mock</text>
<line x1="352.70" y1="375.50" x2="360.30" y2="375.50" stroke="#0d4b80" stroke-width="1.3" />
<ellipse cx="356.50" cy="375.50" rx="1.9" ry="1.45" fill="#0d4b80"/>
<text x="362.70" y="377.60" font-size="7.4" font-weight="normal" fill="#231f20" stroke="#231f20" stroke-width="0.25" textLength="24.78" lengthAdjust="spacingAndGlyphs" >Clone C</text>
<line x1="425.90" y1="357.90" x2="425.90" y2="429.00" stroke="#1a1a1a" stroke-width="1.25" />
<line x1="425.30" y1="428.40" x2="512.80" y2="428.40" stroke="#1a1a1a" stroke-width="1.25" />
<line x1="422.30" y1="428.40" x2="425.90" y2="428.40" stroke="#1a1a1a" stroke-width="1.1" />
<text x="415.81" y="430.85" font-size="8.1" font-weight="normal" fill="#231f20" stroke="#231f20" stroke-width="0.25" textLength="4.19" lengthAdjust="spacingAndGlyphs" >0</text>
<line x1="422.30" y1="415.38" x2="425.90" y2="415.38" stroke="#1a1a1a" stroke-width="1.1" />
<text x="411.63" y="417.83" font-size="8.1" font-weight="normal" fill="#231f20" stroke="#231f20" stroke-width="0.25" textLength="8.37" lengthAdjust="spacingAndGlyphs" >20</text>
<line x1="422.30" y1="402.36" x2="425.90" y2="402.36" stroke="#1a1a1a" stroke-width="1.1" />
<text x="411.63" y="404.81" font-size="8.1" font-weight="normal" fill="#231f20" stroke="#231f20" stroke-width="0.25" textLength="8.37" lengthAdjust="spacingAndGlyphs" >40</text>
<line x1="422.30" y1="389.34" x2="425.90" y2="389.34" stroke="#1a1a1a" stroke-width="1.1" />
<text x="411.63" y="391.79" font-size="8.1" font-weight="normal" fill="#231f20" stroke="#231f20" stroke-width="0.25" textLength="8.37" lengthAdjust="spacingAndGlyphs" >60</text>
<line x1="422.30" y1="376.32" x2="425.90" y2="376.32" stroke="#1a1a1a" stroke-width="1.1" />
<text x="411.63" y="378.77" font-size="8.1" font-weight="normal" fill="#231f20" stroke="#231f20" stroke-width="0.25" textLength="8.37" lengthAdjust="spacingAndGlyphs" >80</text>
<line x1="422.30" y1="363.30" x2="425.90" y2="363.30" stroke="#1a1a1a" stroke-width="1.1" />
<text x="407.44" y="365.75" font-size="8.1" font-weight="normal" fill="#231f20" stroke="#231f20" stroke-width="0.25" textLength="12.56" lengthAdjust="spacingAndGlyphs" >100</text>
<line x1="434.50" y1="428.40" x2="434.50" y2="431.70" stroke="#1a1a1a" stroke-width="1.1" />
<text x="427.17" y="440.70" font-size="8.1" font-weight="normal" fill="#231f20" stroke="#231f20" stroke-width="0.25" textLength="14.65" lengthAdjust="spacingAndGlyphs" >25:1</text>
<line x1="459.25" y1="428.40" x2="459.25" y2="431.70" stroke="#1a1a1a" stroke-width="1.1" />
<text x="454.02" y="440.70" font-size="8.1" font-weight="normal" fill="#231f20" stroke="#231f20" stroke-width="0.25" textLength="10.46" lengthAdjust="spacingAndGlyphs" >5:1</text>
<line x1="483.75" y1="428.40" x2="483.75" y2="431.70" stroke="#1a1a1a" stroke-width="1.1" />
<text x="478.52" y="440.70" font-size="8.1" font-weight="normal" fill="#231f20" stroke="#231f20" stroke-width="0.25" textLength="10.46" lengthAdjust="spacingAndGlyphs" >1:1</text>
<line x1="508.25" y1="428.40" x2="508.25" y2="431.70" stroke="#1a1a1a" stroke-width="1.1" />
<text x="503.02" y="440.70" font-size="8.1" font-weight="normal" fill="#231f20" stroke="#231f20" stroke-width="0.25" textLength="10.46" lengthAdjust="spacingAndGlyphs" >1:5</text>
<text x="385.10" y="0.00" font-size="9.0" font-weight="normal" fill="#231f20" stroke="#231f20" stroke-width="0.25" textLength="22.34" lengthAdjust="spacingAndGlyphs" transform="translate(401.05,792.90) rotate(-90)">% Lysis</text>
<text x="455.40" y="351.40" font-size="10.2" font-weight="normal" fill="#231f20" stroke="#231f20" stroke-width="0.25" textLength="29.20" lengthAdjust="spacingAndGlyphs" >AML14</text>
<line x1="434.50" y1="365.50" x2="434.50" y2="368.50" stroke="#0d4b80" stroke-width="0.9" />
<line x1="433.10" y1="365.50" x2="435.90" y2="365.50" stroke="#0d4b80" stroke-width="0.9" />
<line x1="433.10" y1="368.50" x2="435.90" y2="368.50" stroke="#0d4b80" stroke-width="0.9" />
<line x1="459.25" y1="378.50" x2="459.25" y2="380.50" stroke="#0d4b80" stroke-width="0.9" />
<line x1="457.85" y1="378.50" x2="460.65" y2="378.50" stroke="#0d4b80" stroke-width="0.9" />
<line x1="457.85" y1="380.50" x2="460.65" y2="380.50" stroke="#0d4b80" stroke-width="0.9" />
<line x1="483.75" y1="384.00" x2="483.75" y2="388.00" stroke="#0d4b80" stroke-width="0.9" />
<line x1="482.35" y1="384.00" x2="485.15" y2="384.00" stroke="#0d4b80" stroke-width="0.9" />
<line x1="482.35" y1="388.00" x2="485.15" y2="388.00" stroke="#0d4b80" stroke-width="0.9" />
<line x1="508.25" y1="391.00" x2="508.25" y2="396.00" stroke="#0d4b80" stroke-width="0.9" />
<line x1="506.85" y1="391.00" x2="509.65" y2="391.00" stroke="#0d4b80" stroke-width="0.9" />
<line x1="506.85" y1="396.00" x2="509.65" y2="396.00" stroke="#0d4b80" stroke-width="0.9" />
<polyline points="434.50,367.00 459.25,379.50 483.75,386.00 508.25,393.50" fill="none" stroke="#0d4b80" stroke-width="1.5" stroke-linejoin="round"/>
<rect x="432.80" y="365.30" width="3.4" height="3.4" fill="#0d4b80"/>
<rect x="457.55" y="377.80" width="3.4" height="3.4" fill="#0d4b80"/>
<rect x="482.05" y="384.30" width="3.4" height="3.4" fill="#0d4b80"/>
<rect x="506.55" y="391.80" width="3.4" height="3.4" fill="#0d4b80"/>
<line x1="434.50" y1="410.50" x2="434.50" y2="414.50" stroke="#c8102e" stroke-width="0.9" />
<line x1="433.10" y1="410.50" x2="435.90" y2="410.50" stroke="#c8102e" stroke-width="0.9" />
<line x1="433.10" y1="414.50" x2="435.90" y2="414.50" stroke="#c8102e" stroke-width="0.9" />
<line x1="459.25" y1="415.80" x2="459.25" y2="417.80" stroke="#c8102e" stroke-width="0.9" />
<line x1="457.85" y1="415.80" x2="460.65" y2="415.80" stroke="#c8102e" stroke-width="0.9" />
<line x1="457.85" y1="417.80" x2="460.65" y2="417.80" stroke="#c8102e" stroke-width="0.9" />
<line x1="483.75" y1="419.50" x2="483.75" y2="422.50" stroke="#c8102e" stroke-width="0.9" />
<line x1="482.35" y1="419.50" x2="485.15" y2="419.50" stroke="#c8102e" stroke-width="0.9" />
<line x1="482.35" y1="422.50" x2="485.15" y2="422.50" stroke="#c8102e" stroke-width="0.9" />
<line x1="508.25" y1="424.00" x2="508.25" y2="426.00" stroke="#c8102e" stroke-width="0.9" />
<line x1="506.85" y1="424.00" x2="509.65" y2="424.00" stroke="#c8102e" stroke-width="0.9" />
<line x1="506.85" y1="426.00" x2="509.65" y2="426.00" stroke="#c8102e" stroke-width="0.9" />
<polyline points="434.50,412.50 459.25,416.80 483.75,421.00 508.25,425.00" fill="none" stroke="#c8102e" stroke-width="1.5" stroke-linejoin="round"/>
<circle cx="434.50" cy="412.50" r="1.7" fill="#c8102e"/>
<circle cx="459.25" cy="416.80" r="1.7" fill="#c8102e"/>
<circle cx="483.75" cy="421.00" r="1.7" fill="#c8102e"/>
<circle cx="508.25" cy="425.00" r="1.7" fill="#c8102e"/>
<line x1="476.15" y1="366.30" x2="483.75" y2="366.30" stroke="#c8102e" stroke-width="1.3" />
<ellipse cx="479.95" cy="366.30" rx="1.9" ry="1.45" fill="#c8102e"/>
<text x="486.15" y="368.60" font-size="7.3999999999999995" font-weight="normal" fill="#231f20" stroke="#231f20" stroke-width="0.25" textLength="17.40" lengthAdjust="spacingAndGlyphs" >Mock</text>
<line x1="476.15" y1="375.50" x2="483.75" y2="375.50" stroke="#0d4b80" stroke-width="1.3" />
<ellipse cx="479.95" cy="375.50" rx="1.9" ry="1.45" fill="#0d4b80"/>
<text x="486.15" y="377.60" font-size="7.4" font-weight="normal" fill="#231f20" stroke="#231f20" stroke-width="0.25" textLength="24.78" lengthAdjust="spacingAndGlyphs" >Clone C</text>
<line x1="39.45" y1="474.50" x2="39.45" y2="546.40" stroke="#1a1a1a" stroke-width="1.25" />
<line x1="38.85" y1="545.80" x2="131.90" y2="545.80" stroke="#1a1a1a" stroke-width="1.25" />
<line x1="35.85" y1="545.80" x2="39.45" y2="545.80" stroke="#1a1a1a" stroke-width="1.1" />
<text x="28.16" y="548.25" font-size="8.1" font-weight="normal" fill="#231f20" stroke="#231f20" stroke-width="0.25" textLength="4.19" lengthAdjust="spacingAndGlyphs" >0</text>
<line x1="35.85" y1="532.34" x2="39.45" y2="532.34" stroke="#1a1a1a" stroke-width="1.1" />
<text x="23.98" y="534.79" font-size="8.1" font-weight="normal" fill="#231f20" stroke="#231f20" stroke-width="0.25" textLength="8.37" lengthAdjust="spacingAndGlyphs" >20</text>
<line x1="35.85" y1="518.88" x2="39.45" y2="518.88" stroke="#1a1a1a" stroke-width="1.1" />
<text x="23.98" y="521.33" font-size="8.1" font-weight="normal" fill="#231f20" stroke="#231f20" stroke-width="0.25" textLength="8.37" lengthAdjust="spacingAndGlyphs" >40</text>
<line x1="35.85" y1="505.42" x2="39.45" y2="505.42" stroke="#1a1a1a" stroke-width="1.1" />
<text x="23.98" y="507.87" font-size="8.1" font-weight="normal" fill="#231f20" stroke="#231f20" stroke-width="0.25" textLength="8.37" lengthAdjust="spacingAndGlyphs" >60</text>
<line x1="35.85" y1="491.96" x2="39.45" y2="491.96" stroke="#1a1a1a" stroke-width="1.1" />
<text x="23.98" y="494.41" font-size="8.1" font-weight="normal" fill="#231f20" stroke="#231f20" stroke-width="0.25" textLength="8.37" lengthAdjust="spacingAndGlyphs" >80</text>
<line x1="35.85" y1="478.50" x2="39.45" y2="478.50" stroke="#1a1a1a" stroke-width="1.1" />
<text x="19.79" y="480.95" font-size="8.1" font-weight="normal" fill="#231f20" stroke="#231f20" stroke-width="0.25" textLength="12.56" lengthAdjust="spacingAndGlyphs" >100</text>
<line x1="48.75" y1="545.80" x2="48.75" y2="549.10" stroke="#1a1a1a" stroke-width="1.1" />
<text x="41.42" y="558.10" font-size="8.1" font-weight="normal" fill="#231f20" stroke="#231f20" stroke-width="0.25" textLength="14.65" lengthAdjust="spacingAndGlyphs" >25:1</text>
<line x1="74.25" y1="545.80" x2="74.25" y2="549.10" stroke="#1a1a1a" stroke-width="1.1" />
<text x="69.02" y="558.10" font-size="8.1" font-weight="normal" fill="#231f20" stroke="#231f20" stroke-width="0.25" textLength="10.46" lengthAdjust="spacingAndGlyphs" >5:1</text>
<line x1="99.50" y1="545.80" x2="99.50" y2="549.10" stroke="#1a1a1a" stroke-width="1.1" />
<text x="94.27" y="558.10" font-size="8.1" font-weight="normal" fill="#231f20" stroke="#231f20" stroke-width="0.25" textLength="10.46" lengthAdjust="spacingAndGlyphs" >1:1</text>
<line x1="124.50" y1="545.80" x2="124.50" y2="549.10" stroke="#1a1a1a" stroke-width="1.1" />
<text x="119.27" y="558.10" font-size="8.1" font-weight="normal" fill="#231f20" stroke="#231f20" stroke-width="0.25" textLength="10.46" lengthAdjust="spacingAndGlyphs" >1:5</text>
<text x="501.00" y="0.00" font-size="9.0" font-weight="normal" fill="#231f20" stroke="#231f20" stroke-width="0.25" textLength="22.34" lengthAdjust="spacingAndGlyphs" transform="translate(14.05,1024.70) rotate(-90)">% Lysis</text>
<text x="73.00" y="467.90" font-size="10.2" font-weight="normal" fill="#231f20" stroke="#231f20" stroke-width="0.25" textLength="25.62" lengthAdjust="spacingAndGlyphs" >BV173</text>
<line x1="48.75" y1="482.50" x2="48.75" y2="488.50" stroke="#0d4b80" stroke-width="0.9" />
<line x1="47.35" y1="482.50" x2="50.15" y2="482.50" stroke="#0d4b80" stroke-width="0.9" />
<line x1="47.35" y1="488.50" x2="50.15" y2="488.50" stroke="#0d4b80" stroke-width="0.9" />
<line x1="74.25" y1="498.80" x2="74.25" y2="509.80" stroke="#0d4b80" stroke-width="0.9" />
<line x1="72.85" y1="498.80" x2="75.65" y2="498.80" stroke="#0d4b80" stroke-width="0.9" />
<line x1="72.85" y1="509.80" x2="75.65" y2="509.80" stroke="#0d4b80" stroke-width="0.9" />
<line x1="99.50" y1="507.30" x2="99.50" y2="514.30" stroke="#0d4b80" stroke-width="0.9" />
<line x1="98.10" y1="507.30" x2="100.90" y2="507.30" stroke="#0d4b80" stroke-width="0.9" />
<line x1="98.10" y1="514.30" x2="100.90" y2="514.30" stroke="#0d4b80" stroke-width="0.9" />
<line x1="124.50" y1="529.30" x2="124.50" y2="533.30" stroke="#0d4b80" stroke-width="0.9" />
<line x1="123.10" y1="529.30" x2="125.90" y2="529.30" stroke="#0d4b80" stroke-width="0.9" />
<line x1="123.10" y1="533.30" x2="125.90" y2="533.30" stroke="#0d4b80" stroke-width="0.9" />
<polyline points="48.75,485.50 74.25,504.30 99.50,510.80 124.50,531.30" fill="none" stroke="#0d4b80" stroke-width="1.5" stroke-linejoin="round"/>
<rect x="47.05" y="483.80" width="3.4" height="3.4" fill="#0d4b80"/>
<rect x="72.55" y="502.60" width="3.4" height="3.4" fill="#0d4b80"/>
<rect x="97.80" y="509.10" width="3.4" height="3.4" fill="#0d4b80"/>
<rect x="122.80" y="529.60" width="3.4" height="3.4" fill="#0d4b80"/>
<line x1="48.75" y1="535.50" x2="48.75" y2="538.50" stroke="#c8102e" stroke-width="0.9" />
<line x1="47.35" y1="535.50" x2="50.15" y2="535.50" stroke="#c8102e" stroke-width="0.9" />
<line x1="47.35" y1="538.50" x2="50.15" y2="538.50" stroke="#c8102e" stroke-width="0.9" />
<line x1="74.25" y1="537.80" x2="74.25" y2="539.80" stroke="#c8102e" stroke-width="0.9" />
<line x1="72.85" y1="537.80" x2="75.65" y2="537.80" stroke="#c8102e" stroke-width="0.9" />
<line x1="72.85" y1="539.80" x2="75.65" y2="539.80" stroke="#c8102e" stroke-width="0.9" />
<line x1="99.50" y1="538.30" x2="99.50" y2="544.30" stroke="#c8102e" stroke-width="0.9" />
<line x1="98.10" y1="538.30" x2="100.90" y2="538.30" stroke="#c8102e" stroke-width="0.9" />
<line x1="98.10" y1="544.30" x2="100.90" y2="544.30" stroke="#c8102e" stroke-width="0.9" />
<line x1="124.50" y1="542.80" x2="124.50" y2="544.80" stroke="#c8102e" stroke-width="0.9" />
<line x1="123.10" y1="542.80" x2="125.90" y2="542.80" stroke="#c8102e" stroke-width="0.9" />
<line x1="123.10" y1="544.80" x2="125.90" y2="544.80" stroke="#c8102e" stroke-width="0.9" />
<polyline points="48.75,537.00 74.25,538.80 99.50,541.30 124.50,543.80" fill="none" stroke="#c8102e" stroke-width="1.5" stroke-linejoin="round"/>
<circle cx="48.75" cy="537.00" r="1.7" fill="#c8102e"/>
<circle cx="74.25" cy="538.80" r="1.7" fill="#c8102e"/>
<circle cx="99.50" cy="541.30" r="1.7" fill="#c8102e"/>
<circle cx="124.50" cy="543.80" r="1.7" fill="#c8102e"/>
<line x1="90.50" y1="484.70" x2="98.10" y2="484.70" stroke="#c8102e" stroke-width="1.3" />
<ellipse cx="94.30" cy="484.70" rx="1.9" ry="1.45" fill="#c8102e"/>
<text x="101.10" y="487.00" font-size="7.3999999999999995" font-weight="normal" fill="#231f20" stroke="#231f20" stroke-width="0.25" textLength="17.40" lengthAdjust="spacingAndGlyphs" >Mock</text>
<line x1="90.50" y1="494.30" x2="98.10" y2="494.30" stroke="#0d4b80" stroke-width="1.3" />
<ellipse cx="94.30" cy="494.30" rx="1.9" ry="1.45" fill="#0d4b80"/>
<text x="101.10" y="496.40" font-size="7.4" font-weight="normal" fill="#231f20" stroke="#231f20" stroke-width="0.25" textLength="24.78" lengthAdjust="spacingAndGlyphs" >Clone C</text>
<line x1="166.50" y1="474.50" x2="166.50" y2="546.40" stroke="#1a1a1a" stroke-width="1.25" />
<line x1="165.90" y1="545.80" x2="256.10" y2="545.80" stroke="#1a1a1a" stroke-width="1.25" />
<line x1="162.90" y1="545.80" x2="166.50" y2="545.80" stroke="#1a1a1a" stroke-width="1.1" />
<text x="156.41" y="548.25" font-size="8.1" font-weight="normal" fill="#231f20" stroke="#231f20" stroke-width="0.25" textLength="4.19" lengthAdjust="spacingAndGlyphs" >0</text>
<line x1="162.90" y1="532.74" x2="166.50" y2="532.74" stroke="#1a1a1a" stroke-width="1.1" />
<text x="152.23" y="535.19" font-size="8.1" font-weight="normal" fill="#231f20" stroke="#231f20" stroke-width="0.25" textLength="8.37" lengthAdjust="spacingAndGlyphs" >20</text>
<line x1="162.90" y1="519.68" x2="166.50" y2="519.68" stroke="#1a1a1a" stroke-width="1.1" />
<text x="152.23" y="522.13" font-size="8.1" font-weight="normal" fill="#231f20" stroke="#231f20" stroke-width="0.25" textLength="8.37" lengthAdjust="spacingAndGlyphs" >40</text>
<line x1="162.90" y1="506.62" x2="166.50" y2="506.62" stroke="#1a1a1a" stroke-width="1.1" />
<text x="152.23" y="509.07" font-size="8.1" font-weight="normal" fill="#231f20" stroke="#231f20" stroke-width="0.25" textLength="8.37" lengthAdjust="spacingAndGlyphs" >60</text>
<line x1="162.90" y1="493.56" x2="166.50" y2="493.56" stroke="#1a1a1a" stroke-width="1.1" />
<text x="152.23" y="496.01" font-size="8.1" font-weight="normal" fill="#231f20" stroke="#231f20" stroke-width="0.25" textLength="8.37" lengthAdjust="spacingAndGlyphs" >80</text>
<line x1="162.90" y1="480.50" x2="166.50" y2="480.50" stroke="#1a1a1a" stroke-width="1.1" />
<text x="148.04" y="482.95" font-size="8.1" font-weight="normal" fill="#231f20" stroke="#231f20" stroke-width="0.25" textLength="12.56" lengthAdjust="spacingAndGlyphs" >100</text>
<line x1="175.50" y1="545.80" x2="175.50" y2="549.10" stroke="#1a1a1a" stroke-width="1.1" />
<text x="168.17" y="558.10" font-size="8.1" font-weight="normal" fill="#231f20" stroke="#231f20" stroke-width="0.25" textLength="14.65" lengthAdjust="spacingAndGlyphs" >25:1</text>
<line x1="200.00" y1="545.80" x2="200.00" y2="549.10" stroke="#1a1a1a" stroke-width="1.1" />
<text x="194.77" y="558.10" font-size="8.1" font-weight="normal" fill="#231f20" stroke="#231f20" stroke-width="0.25" textLength="10.46" lengthAdjust="spacingAndGlyphs" >5:1</text>
<line x1="224.25" y1="545.80" x2="224.25" y2="549.10" stroke="#1a1a1a" stroke-width="1.1" />
<text x="219.02" y="558.10" font-size="8.1" font-weight="normal" fill="#231f20" stroke="#231f20" stroke-width="0.25" textLength="10.46" lengthAdjust="spacingAndGlyphs" >1:1</text>
<line x1="249.00" y1="545.80" x2="249.00" y2="549.10" stroke="#1a1a1a" stroke-width="1.1" />
<text x="243.77" y="558.10" font-size="8.1" font-weight="normal" fill="#231f20" stroke="#231f20" stroke-width="0.25" textLength="10.46" lengthAdjust="spacingAndGlyphs" >1:5</text>
<text x="501.00" y="0.00" font-size="9.0" font-weight="normal" fill="#231f20" stroke="#231f20" stroke-width="0.25" textLength="22.34" lengthAdjust="spacingAndGlyphs" transform="translate(142.25,1024.70) rotate(-90)">% Lysis</text>
<text x="194.60" y="467.90" font-size="10.2" font-weight="normal" fill="#231f20" stroke="#231f20" stroke-width="0.25" textLength="32.51" lengthAdjust="spacingAndGlyphs" >MAC2A</text>
<line x1="175.50" y1="481.00" x2="175.50" y2="485.00" stroke="#0d4b80" stroke-width="0.9" />
<line x1="174.10" y1="481.00" x2="176.90" y2="481.00" stroke="#0d4b80" stroke-width="0.9" />
<line x1="174.10" y1="485.00" x2="176.90" y2="485.00" stroke="#0d4b80" stroke-width="0.9" />
<line x1="200.00" y1="483.50" x2="200.00" y2="487.50" stroke="#0d4b80" stroke-width="0.9" />
<line x1="198.60" y1="483.50" x2="201.40" y2="483.50" stroke="#0d4b80" stroke-width="0.9" />
<line x1="198.60" y1="487.50" x2="201.40" y2="487.50" stroke="#0d4b80" stroke-width="0.9" />
<line x1="224.25" y1="482.30" x2="224.25" y2="486.30" stroke="#0d4b80" stroke-width="0.9" />
<line x1="222.85" y1="482.30" x2="225.65" y2="482.30" stroke="#0d4b80" stroke-width="0.9" />
<line x1="222.85" y1="486.30" x2="225.65" y2="486.30" stroke="#0d4b80" stroke-width="0.9" />
<line x1="249.00" y1="497.50" x2="249.00" y2="502.50" stroke="#0d4b80" stroke-width="0.9" />
<line x1="247.60" y1="497.50" x2="250.40" y2="497.50" stroke="#0d4b80" stroke-width="0.9" />
<line x1="247.60" y1="502.50" x2="250.40" y2="502.50" stroke="#0d4b80" stroke-width="0.9" />
<polyline points="175.50,483.00 200.00,485.50 224.25,484.30 249.00,500.00" fill="none" stroke="#0d4b80" stroke-width="1.5" stroke-linejoin="round"/>
<rect x="173.80" y="481.30" width="3.4" height="3.4" fill="#0d4b80"/>
<rect x="198.30" y="483.80" width="3.4" height="3.4" fill="#0d4b80"/>
<rect x="222.55" y="482.60" width="3.4" height="3.4" fill="#0d4b80"/>
<rect x="247.30" y="498.30" width="3.4" height="3.4" fill="#0d4b80"/>
<line x1="175.50" y1="528.00" x2="175.50" y2="532.00" stroke="#c8102e" stroke-width="0.9" />
<line x1="174.10" y1="528.00" x2="176.90" y2="528.00" stroke="#c8102e" stroke-width="0.9" />
<line x1="174.10" y1="532.00" x2="176.90" y2="532.00" stroke="#c8102e" stroke-width="0.9" />
<line x1="200.00" y1="529.80" x2="200.00" y2="533.80" stroke="#c8102e" stroke-width="0.9" />
<line x1="198.60" y1="529.80" x2="201.40" y2="529.80" stroke="#c8102e" stroke-width="0.9" />
<line x1="198.60" y1="533.80" x2="201.40" y2="533.80" stroke="#c8102e" stroke-width="0.9" />
<line x1="224.25" y1="536.30" x2="224.25" y2="541.30" stroke="#c8102e" stroke-width="0.9" />
<line x1="222.85" y1="536.30" x2="225.65" y2="536.30" stroke="#c8102e" stroke-width="0.9" />
<line x1="222.85" y1="541.30" x2="225.65" y2="541.30" stroke="#c8102e" stroke-width="0.9" />
<line x1="249.00" y1="539.80" x2="249.00" y2="541.80" stroke="#c8102e" stroke-width="0.9" />
<line x1="247.60" y1="539.80" x2="250.40" y2="539.80" stroke="#c8102e" stroke-width="0.9" />
<line x1="247.60" y1="541.80" x2="250.40" y2="541.80" stroke="#c8102e" stroke-width="0.9" />
<polyline points="175.50,530.00 200.00,531.80 224.25,538.80 249.00,540.80" fill="none" stroke="#c8102e" stroke-width="1.5" stroke-linejoin="round"/>
<circle cx="175.50" cy="530.00" r="1.7" fill="#c8102e"/>
<circle cx="200.00" cy="531.80" r="1.7" fill="#c8102e"/>
<circle cx="224.25" cy="538.80" r="1.7" fill="#c8102e"/>
<circle cx="249.00" cy="540.80" r="1.7" fill="#c8102e"/>
<line x1="219.60" y1="514.70" x2="227.20" y2="514.70" stroke="#c8102e" stroke-width="1.3" />
<ellipse cx="223.40" cy="514.70" rx="1.9" ry="1.45" fill="#c8102e"/>
<text x="230.20" y="517.00" font-size="7.3999999999999995" font-weight="normal" fill="#231f20" stroke="#231f20" stroke-width="0.25" textLength="17.40" lengthAdjust="spacingAndGlyphs" >Mock</text>
<line x1="219.60" y1="525.10" x2="227.20" y2="525.10" stroke="#0d4b80" stroke-width="1.3" />
<ellipse cx="223.40" cy="525.10" rx="1.9" ry="1.45" fill="#0d4b80"/>
<text x="230.20" y="527.20" font-size="7.4" font-weight="normal" fill="#231f20" stroke="#231f20" stroke-width="0.25" textLength="24.78" lengthAdjust="spacingAndGlyphs" >Clone C</text>
<line x1="296.90" y1="474.40" x2="296.90" y2="546.35" stroke="#1a1a1a" stroke-width="1.25" />
<line x1="296.30" y1="545.75" x2="387.00" y2="545.75" stroke="#1a1a1a" stroke-width="1.25" />
<line x1="293.30" y1="545.75" x2="296.90" y2="545.75" stroke="#1a1a1a" stroke-width="1.1" />
<text x="286.81" y="548.20" font-size="8.1" font-weight="normal" fill="#231f20" stroke="#231f20" stroke-width="0.25" textLength="4.19" lengthAdjust="spacingAndGlyphs" >0</text>
<line x1="293.30" y1="532.68" x2="296.90" y2="532.68" stroke="#1a1a1a" stroke-width="1.1" />
<text x="282.63" y="535.13" font-size="8.1" font-weight="normal" fill="#231f20" stroke="#231f20" stroke-width="0.25" textLength="8.37" lengthAdjust="spacingAndGlyphs" >20</text>
<line x1="293.30" y1="519.61" x2="296.90" y2="519.61" stroke="#1a1a1a" stroke-width="1.1" />
<text x="282.63" y="522.06" font-size="8.1" font-weight="normal" fill="#231f20" stroke="#231f20" stroke-width="0.25" textLength="8.37" lengthAdjust="spacingAndGlyphs" >40</text>
<line x1="293.30" y1="506.54" x2="296.90" y2="506.54" stroke="#1a1a1a" stroke-width="1.1" />
<text x="282.63" y="508.99" font-size="8.1" font-weight="normal" fill="#231f20" stroke="#231f20" stroke-width="0.25" textLength="8.37" lengthAdjust="spacingAndGlyphs" >60</text>
<line x1="293.30" y1="493.47" x2="296.90" y2="493.47" stroke="#1a1a1a" stroke-width="1.1" />
<text x="282.63" y="495.92" font-size="8.1" font-weight="normal" fill="#231f20" stroke="#231f20" stroke-width="0.25" textLength="8.37" lengthAdjust="spacingAndGlyphs" >80</text>
<line x1="293.30" y1="480.40" x2="296.90" y2="480.40" stroke="#1a1a1a" stroke-width="1.1" />
<text x="278.44" y="482.85" font-size="8.1" font-weight="normal" fill="#231f20" stroke="#231f20" stroke-width="0.25" textLength="12.56" lengthAdjust="spacingAndGlyphs" >100</text>
<line x1="306.00" y1="545.75" x2="306.00" y2="549.05" stroke="#1a1a1a" stroke-width="1.1" />
<text x="298.67" y="558.10" font-size="8.1" font-weight="normal" fill="#231f20" stroke="#231f20" stroke-width="0.25" textLength="14.65" lengthAdjust="spacingAndGlyphs" >25:1</text>
<line x1="330.75" y1="545.75" x2="330.75" y2="549.05" stroke="#1a1a1a" stroke-width="1.1" />
<text x="325.52" y="558.10" font-size="8.1" font-weight="normal" fill="#231f20" stroke="#231f20" stroke-width="0.25" textLength="10.46" lengthAdjust="spacingAndGlyphs" >5:1</text>
<line x1="355.50" y1="545.75" x2="355.50" y2="549.05" stroke="#1a1a1a" stroke-width="1.1" />
<text x="350.27" y="558.10" font-size="8.1" font-weight="normal" fill="#231f20" stroke="#231f20" stroke-width="0.25" textLength="10.46" lengthAdjust="spacingAndGlyphs" >1:1</text>
<line x1="379.90" y1="545.75" x2="379.90" y2="549.05" stroke="#1a1a1a" stroke-width="1.1" />
<text x="374.67" y="558.10" font-size="8.1" font-weight="normal" fill="#231f20" stroke="#231f20" stroke-width="0.25" textLength="10.46" lengthAdjust="spacingAndGlyphs" >1:5</text>
<text x="501.00" y="0.00" font-size="9.0" font-weight="normal" fill="#231f20" stroke="#231f20" stroke-width="0.25" textLength="22.34" lengthAdjust="spacingAndGlyphs" transform="translate(272.85,1024.70) rotate(-90)">% Lysis</text>
<text x="324.40" y="467.90" font-size="10.2" font-weight="normal" fill="#231f20" stroke="#231f20" stroke-width="0.25" textLength="34.07" lengthAdjust="spacingAndGlyphs" >SUDHL6</text>
<line x1="306.00" y1="502.80" x2="306.00" y2="514.80" stroke="#0d4b80" stroke-width="0.9" />
<line x1="304.60" y1="502.80" x2="307.40" y2="502.80" stroke="#0d4b80" stroke-width="0.9" />
<line x1="304.60" y1="514.80" x2="307.40" y2="514.80" stroke="#0d4b80" stroke-width="0.9" />
<line x1="330.75" y1="525.00" x2="330.75" y2="535.00" stroke="#0d4b80" stroke-width="0.9" />
<line x1="329.35" y1="525.00" x2="332.15" y2="525.00" stroke="#0d4b80" stroke-width="0.9" />
<line x1="329.35" y1="535.00" x2="332.15" y2="535.00" stroke="#0d4b80" stroke-width="0.9" />
<line x1="355.50" y1="533.00" x2="355.50" y2="537.00" stroke="#0d4b80" stroke-width="0.9" />
<line x1="354.10" y1="533.00" x2="356.90" y2="533.00" stroke="#0d4b80" stroke-width="0.9" />
<line x1="354.10" y1="537.00" x2="356.90" y2="537.00" stroke="#0d4b80" stroke-width="0.9" />
<line x1="379.90" y1="537.50" x2="379.90" y2="540.50" stroke="#0d4b80" stroke-width="0.9" />
<line x1="378.50" y1="537.50" x2="381.30" y2="537.50" stroke="#0d4b80" stroke-width="0.9" />
<line x1="378.50" y1="540.50" x2="381.30" y2="540.50" stroke="#0d4b80" stroke-width="0.9" />
<polyline points="306.00,508.80 330.75,530.00 355.50,535.00 379.90,539.00" fill="none" stroke="#0d4b80" stroke-width="1.5" stroke-linejoin="round"/>
<rect x="304.30" y="507.10" width="3.4" height="3.4" fill="#0d4b80"/>
<rect x="329.05" y="528.30" width="3.4" height="3.4" fill="#0d4b80"/>
<rect x="353.80" y="533.30" width="3.4" height="3.4" fill="#0d4b80"/>
<rect x="378.20" y="537.30" width="3.4" height="3.4" fill="#0d4b80"/>
<line x1="306.00" y1="534.00" x2="306.00" y2="536.00" stroke="#c8102e" stroke-width="0.9" />
<line x1="304.60" y1="534.00" x2="307.40" y2="534.00" stroke="#c8102e" stroke-width="0.9" />
<line x1="304.60" y1="536.00" x2="307.40" y2="536.00" stroke="#c8102e" stroke-width="0.9" />
<line x1="330.75" y1="535.50" x2="330.75" y2="539.50" stroke="#c8102e" stroke-width="0.9" />
<line x1="329.35" y1="535.50" x2="332.15" y2="535.50" stroke="#c8102e" stroke-width="0.9" />
<line x1="329.35" y1="539.50" x2="332.15" y2="539.50" stroke="#c8102e" stroke-width="0.9" />
<line x1="355.50" y1="539.30" x2="355.50" y2="541.30" stroke="#c8102e" stroke-width="0.9" />
<line x1="354.10" y1="539.30" x2="356.90" y2="539.30" stroke="#c8102e" stroke-width="0.9" />
<line x1="354.10" y1="541.30" x2="356.90" y2="541.30" stroke="#c8102e" stroke-width="0.9" />
<line x1="379.90" y1="541.80" x2="379.90" y2="543.80" stroke="#c8102e" stroke-width="0.9" />
<line x1="378.50" y1="541.80" x2="381.30" y2="541.80" stroke="#c8102e" stroke-width="0.9" />
<line x1="378.50" y1="543.80" x2="381.30" y2="543.80" stroke="#c8102e" stroke-width="0.9" />
<polyline points="306.00,535.00 330.75,537.50 355.50,540.30 379.90,542.80" fill="none" stroke="#c8102e" stroke-width="1.5" stroke-linejoin="round"/>
<circle cx="306.00" cy="535.00" r="1.7" fill="#c8102e"/>
<circle cx="330.75" cy="537.50" r="1.7" fill="#c8102e"/>
<circle cx="355.50" cy="540.30" r="1.7" fill="#c8102e"/>
<circle cx="379.90" cy="542.80" r="1.7" fill="#c8102e"/>
<line x1="352.70" y1="484.70" x2="360.30" y2="484.70" stroke="#c8102e" stroke-width="1.3" />
<ellipse cx="356.50" cy="484.70" rx="1.9" ry="1.45" fill="#c8102e"/>
<text x="363.10" y="487.00" font-size="7.3999999999999995" font-weight="normal" fill="#231f20" stroke="#231f20" stroke-width="0.25" textLength="17.40" lengthAdjust="spacingAndGlyphs" >Mock</text>
<line x1="352.70" y1="494.30" x2="360.30" y2="494.30" stroke="#0d4b80" stroke-width="1.3" />
<ellipse cx="356.50" cy="494.30" rx="1.9" ry="1.45" fill="#0d4b80"/>
<text x="363.10" y="496.40" font-size="7.4" font-weight="normal" fill="#231f20" stroke="#231f20" stroke-width="0.25" textLength="24.78" lengthAdjust="spacingAndGlyphs" >Clone C</text>
<line x1="6.50" y1="323.30" x2="241.70" y2="323.30" stroke="#333" stroke-width="1.2" />
<line x1="275.00" y1="323.30" x2="512.80" y2="323.30" stroke="#333" stroke-width="1.2" />
<text x="251.90" y="326.20" font-size="10.0" font-weight="normal" fill="#231f20" stroke="#231f20" stroke-width="0.25" textLength="13.19" lengthAdjust="spacingAndGlyphs" >E:T</text>
<line x1="6.50" y1="576.30" x2="241.70" y2="576.30" stroke="#333" stroke-width="1.2" />
<line x1="275.00" y1="576.30" x2="512.80" y2="576.30" stroke="#333" stroke-width="1.2" />
<text x="251.90" y="579.00" font-size="10.0" font-weight="normal" fill="#231f20" stroke="#231f20" stroke-width="0.25" textLength="13.19" lengthAdjust="spacingAndGlyphs" >E:T</text>
</svg>
<div class="frame"></div>
</body></html>
